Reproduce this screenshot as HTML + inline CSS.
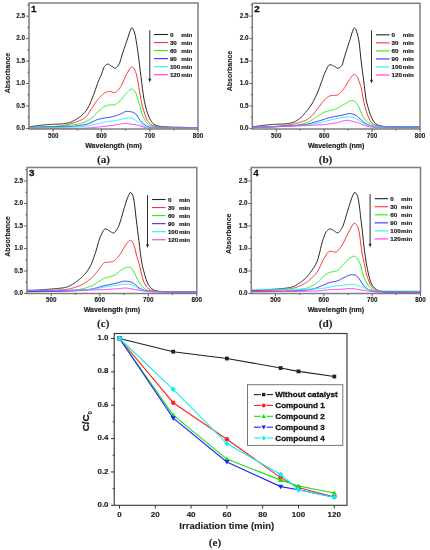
<!DOCTYPE html>
<html><head><meta charset="utf-8"><style>
html,body{margin:0;padding:0;background:#fff;-webkit-font-smoothing:antialiased;}
svg{display:block;will-change:transform;}
</style></head><body>
<svg width="430" height="550" viewBox="0 0 430 550">
<rect width="430" height="550" fill="#fff"/>
<clipPath id="ca"><rect x="29" y="2.5" width="169" height="126.5"/></clipPath>
<path d="M29.0,127.0 L29.7,126.9 L30.4,126.8 L31.1,126.7 L31.8,126.5 L32.5,126.4 L33.2,126.3 L33.9,126.2 L34.6,126.1 L35.3,126.0 L36.0,125.9 L36.7,125.8 L37.4,125.7 L38.1,125.6 L38.8,125.5 L39.5,125.4 L40.2,125.3 L40.9,125.3 L41.6,125.2 L42.3,125.1 L43.0,125.0 L43.7,125.0 L44.4,124.9 L45.1,124.8 L45.8,124.7 L46.5,124.7 L47.2,124.6 L47.9,124.6 L48.6,124.5 L49.3,124.5 L50.0,124.4 L50.7,124.4 L51.4,124.4 L52.1,124.3 L52.8,124.3 L53.5,124.3 L54.2,124.2 L54.9,124.2 L55.6,124.2 L56.3,124.2 L57.0,124.1 L57.7,124.1 L58.4,124.1 L59.1,124.0 L59.8,124.0 L60.5,124.0 L61.2,123.9 L61.9,123.9 L62.6,123.8 L63.3,123.8 L64.0,123.7 L64.7,123.6 L65.4,123.5 L66.1,123.3 L66.8,123.2 L67.5,123.0 L68.2,122.9 L68.9,122.7 L69.6,122.5 L70.3,122.3 L71.0,122.0 L71.7,121.8 L72.4,121.4 L73.1,121.1 L73.8,120.7 L74.5,120.4 L75.2,120.0 L75.9,119.5 L76.6,119.1 L77.3,118.7 L78.0,118.2 L78.7,117.8 L79.4,117.2 L80.1,116.7 L80.8,116.2 L81.5,115.6 L82.2,114.9 L82.9,114.3 L83.6,113.6 L84.3,112.9 L85.0,112.1 L85.7,111.2 L86.4,110.3 L87.1,109.2 L87.8,108.1 L88.5,106.9 L89.2,105.5 L89.9,104.0 L90.6,102.3 L91.3,100.6 L92.0,98.9 L92.7,97.2 L93.4,95.3 L94.1,93.4 L94.8,91.4 L95.5,89.4 L96.2,87.4 L96.9,85.3 L97.6,83.4 L98.3,81.5 L99.0,79.7 L99.7,78.1 L100.4,76.7 L101.1,75.2 L101.8,73.5 L102.5,71.4 L103.2,69.2 L103.9,67.4 L104.6,66.3 L105.3,65.5 L106.0,64.9 L106.7,64.4 L107.4,64.1 L108.1,64.1 L108.8,64.4 L109.5,64.8 L110.2,65.3 L110.9,65.8 L111.6,66.3 L112.3,66.7 L113.0,67.2 L113.7,67.7 L114.4,68.1 L115.1,68.2 L115.8,68.0 L116.5,67.5 L117.2,66.8 L117.9,65.9 L118.6,64.9 L119.3,63.7 L120.0,62.0 L120.7,59.6 L121.4,57.2 L122.1,55.0 L122.8,52.9 L123.5,50.7 L124.2,48.6 L124.9,46.5 L125.6,44.5 L126.3,42.4 L127.0,40.4 L127.7,38.3 L128.4,36.1 L129.1,33.9 L129.8,31.9 L130.5,30.1 L131.2,28.3 L131.9,27.7 L132.6,28.3 L133.3,29.5 L134.0,31.2 L134.7,33.1 L135.4,36.2 L136.1,40.3 L136.8,44.5 L137.5,49.1 L138.2,54.1 L138.9,59.8 L139.6,65.7 L140.3,71.2 L141.0,76.6 L141.7,82.4 L142.4,88.2 L143.1,93.4 L143.8,98.1 L144.5,101.6 L145.2,104.6 L145.9,107.6 L146.6,110.5 L147.3,112.6 L148.0,114.5 L148.7,116.2 L149.4,117.8 L150.1,119.3 L150.8,120.5 L151.5,121.6 L152.2,122.6 L152.9,123.4 L153.6,124.0 L154.3,124.5 L155.0,124.9 L155.7,125.3 L156.4,125.5 L157.1,125.7 L157.8,125.9 L158.5,126.1 L159.2,126.2 L159.9,126.3 L160.6,126.4 L161.3,126.5 L162.0,126.6 L162.7,126.6 L163.4,126.7 L164.1,126.8 L164.8,126.8 L165.5,126.9 L166.2,126.9 L166.9,127.0 L167.6,127.0 L168.3,127.0 L169.0,127.1 L169.7,127.1 L170.4,127.2 L171.1,127.2 L171.8,127.2 L172.5,127.2 L173.2,127.3 L173.9,127.3 L174.6,127.3 L175.3,127.3 L176.0,127.3 L176.7,127.3 L177.4,127.3 L178.1,127.3 L178.8,127.4 L179.5,127.4 L180.2,127.4 L180.9,127.4 L181.6,127.4 L182.3,127.4 L183.0,127.4 L183.7,127.4 L184.4,127.4 L185.1,127.4 L185.8,127.4 L186.5,127.4 L187.2,127.5 L187.9,127.5 L188.6,127.5 L189.3,127.5 L190.0,127.5 L190.7,127.5 L191.4,127.5 L192.1,127.5 L192.8,127.5 L193.5,127.5 L194.2,127.5 L194.9,127.5 L195.6,127.5 L196.3,127.5 L197.0,127.5 L197.7,127.5" fill="none" stroke="#262626" stroke-width="1" stroke-linejoin="round" clip-path="url(#ca)"/>
<path d="M29.0,127.3 L29.7,127.3 L30.4,127.3 L31.1,127.3 L31.8,127.2 L32.5,127.2 L33.2,127.2 L33.9,127.2 L34.6,127.2 L35.3,127.1 L36.0,127.1 L36.7,127.1 L37.4,127.1 L38.1,127.1 L38.8,127.0 L39.5,127.0 L40.2,127.0 L40.9,127.0 L41.6,126.9 L42.3,126.9 L43.0,126.9 L43.7,126.9 L44.4,126.8 L45.1,126.8 L45.8,126.8 L46.5,126.7 L47.2,126.7 L47.9,126.7 L48.6,126.7 L49.3,126.6 L50.0,126.6 L50.7,126.6 L51.4,126.5 L52.1,126.5 L52.8,126.5 L53.5,126.4 L54.2,126.4 L54.9,126.4 L55.6,126.3 L56.3,126.3 L57.0,126.2 L57.7,126.2 L58.4,126.1 L59.1,126.1 L59.8,126.0 L60.5,126.0 L61.2,125.9 L61.9,125.8 L62.6,125.7 L63.3,125.6 L64.0,125.4 L64.7,125.3 L65.4,125.1 L66.1,125.0 L66.8,124.8 L67.5,124.6 L68.2,124.5 L68.9,124.3 L69.6,124.1 L70.3,123.9 L71.0,123.6 L71.7,123.4 L72.4,123.2 L73.1,123.0 L73.8,122.7 L74.5,122.5 L75.2,122.3 L75.9,122.0 L76.6,121.8 L77.3,121.6 L78.0,121.3 L78.7,121.0 L79.4,120.8 L80.1,120.5 L80.8,120.2 L81.5,119.8 L82.2,119.5 L82.9,119.1 L83.6,118.6 L84.3,118.2 L85.0,117.7 L85.7,117.1 L86.4,116.3 L87.1,115.4 L87.8,114.5 L88.5,113.4 L89.2,112.3 L89.9,111.1 L90.6,110.0 L91.3,108.9 L92.0,107.9 L92.7,106.9 L93.4,105.9 L94.1,104.8 L94.8,103.7 L95.5,102.7 L96.2,101.7 L96.9,100.7 L97.6,99.7 L98.3,98.9 L99.0,98.1 L99.7,97.4 L100.4,96.6 L101.1,95.9 L101.8,95.2 L102.5,94.6 L103.2,94.0 L103.9,93.4 L104.6,93.0 L105.3,92.6 L106.0,92.3 L106.7,92.0 L107.4,91.8 L108.1,91.6 L108.8,91.4 L109.5,91.4 L110.2,91.5 L110.9,91.7 L111.6,91.9 L112.3,92.2 L113.0,92.4 L113.7,92.6 L114.4,92.6 L115.1,92.5 L115.8,92.1 L116.5,91.6 L117.2,91.0 L117.9,90.4 L118.6,89.7 L119.3,88.9 L120.0,87.8 L120.7,86.6 L121.4,85.3 L122.1,84.0 L122.8,82.6 L123.5,81.1 L124.2,79.4 L124.9,77.7 L125.6,76.1 L126.3,74.7 L127.0,73.5 L127.7,72.2 L128.4,71.0 L129.1,69.8 L129.8,68.8 L130.5,68.0 L131.2,67.4 L131.9,67.0 L132.6,67.1 L133.3,67.7 L134.0,68.7 L134.7,70.0 L135.4,71.6 L136.1,73.3 L136.8,75.9 L137.5,79.4 L138.2,83.2 L138.9,87.5 L139.6,91.9 L140.3,95.9 L141.0,99.8 L141.7,103.3 L142.4,106.2 L143.1,108.5 L143.8,110.8 L144.5,113.2 L145.2,115.5 L145.9,117.3 L146.6,119.0 L147.3,120.3 L148.0,121.4 L148.7,122.3 L149.4,123.2 L150.1,123.9 L150.8,124.4 L151.5,124.9 L152.2,125.2 L152.9,125.5 L153.6,125.7 L154.3,126.0 L155.0,126.1 L155.7,126.3 L156.4,126.4 L157.1,126.5 L157.8,126.6 L158.5,126.7 L159.2,126.8 L159.9,126.9 L160.6,126.9 L161.3,127.0 L162.0,127.1 L162.7,127.1 L163.4,127.1 L164.1,127.2 L164.8,127.2 L165.5,127.2 L166.2,127.2 L166.9,127.2 L167.6,127.2 L168.3,127.3 L169.0,127.3 L169.7,127.3 L170.4,127.3 L171.1,127.3 L171.8,127.3 L172.5,127.3 L173.2,127.3 L173.9,127.3 L174.6,127.4 L175.3,127.4 L176.0,127.4 L176.7,127.4 L177.4,127.4 L178.1,127.4 L178.8,127.4 L179.5,127.4 L180.2,127.4 L180.9,127.4 L181.6,127.4 L182.3,127.4 L183.0,127.4 L183.7,127.4 L184.4,127.5 L185.1,127.5 L185.8,127.5 L186.5,127.5 L187.2,127.5 L187.9,127.5 L188.6,127.5 L189.3,127.5 L190.0,127.5 L190.7,127.5 L191.4,127.5 L192.1,127.5 L192.8,127.5 L193.5,127.5 L194.2,127.5 L194.9,127.5 L195.6,127.5 L196.3,127.5 L197.0,127.5 L197.7,127.5" fill="none" stroke="#ff3030" stroke-width="1" stroke-linejoin="round" clip-path="url(#ca)"/>
<path d="M29.0,127.8 L29.7,127.8 L30.4,127.8 L31.1,127.8 L31.8,127.8 L32.5,127.7 L33.2,127.7 L33.9,127.7 L34.6,127.7 L35.3,127.7 L36.0,127.6 L36.7,127.6 L37.4,127.6 L38.1,127.6 L38.8,127.5 L39.5,127.5 L40.2,127.5 L40.9,127.5 L41.6,127.4 L42.3,127.4 L43.0,127.4 L43.7,127.3 L44.4,127.3 L45.1,127.3 L45.8,127.2 L46.5,127.2 L47.2,127.2 L47.9,127.1 L48.6,127.1 L49.3,127.0 L50.0,127.0 L50.7,127.0 L51.4,126.9 L52.1,126.9 L52.8,126.8 L53.5,126.8 L54.2,126.7 L54.9,126.7 L55.6,126.6 L56.3,126.6 L57.0,126.5 L57.7,126.5 L58.4,126.4 L59.1,126.4 L59.8,126.3 L60.5,126.3 L61.2,126.2 L61.9,126.1 L62.6,126.1 L63.3,126.0 L64.0,125.9 L64.7,125.8 L65.4,125.8 L66.1,125.7 L66.8,125.6 L67.5,125.5 L68.2,125.4 L68.9,125.4 L69.6,125.3 L70.3,125.2 L71.0,125.1 L71.7,125.0 L72.4,124.9 L73.1,124.8 L73.8,124.7 L74.5,124.6 L75.2,124.5 L75.9,124.4 L76.6,124.3 L77.3,124.1 L78.0,124.0 L78.7,123.8 L79.4,123.7 L80.1,123.5 L80.8,123.3 L81.5,123.1 L82.2,122.9 L82.9,122.7 L83.6,122.4 L84.3,122.2 L85.0,121.9 L85.7,121.6 L86.4,121.3 L87.1,120.9 L87.8,120.5 L88.5,120.1 L89.2,119.7 L89.9,119.2 L90.6,118.7 L91.3,118.2 L92.0,117.7 L92.7,117.1 L93.4,116.5 L94.1,115.8 L94.8,115.1 L95.5,114.3 L96.2,113.5 L96.9,112.8 L97.6,112.0 L98.3,111.3 L99.0,110.7 L99.7,110.1 L100.4,109.5 L101.1,108.9 L101.8,108.3 L102.5,107.7 L103.2,107.2 L103.9,106.8 L104.6,106.5 L105.3,106.1 L106.0,105.8 L106.7,105.6 L107.4,105.4 L108.1,105.2 L108.8,105.1 L109.5,105.0 L110.2,105.0 L110.9,105.0 L111.6,104.9 L112.3,104.9 L113.0,104.9 L113.7,104.9 L114.4,104.8 L115.1,104.6 L115.8,104.3 L116.5,103.8 L117.2,103.3 L117.9,102.7 L118.6,102.1 L119.3,101.4 L120.0,100.8 L120.7,100.1 L121.4,99.3 L122.1,98.5 L122.8,97.6 L123.5,96.7 L124.2,95.7 L124.9,94.8 L125.6,94.0 L126.3,93.2 L127.0,92.5 L127.7,91.8 L128.4,91.1 L129.1,90.4 L129.8,89.8 L130.5,89.3 L131.2,89.0 L131.9,89.0 L132.6,89.3 L133.3,89.7 L134.0,90.4 L134.7,91.2 L135.4,92.0 L136.1,93.6 L136.8,95.8 L137.5,98.2 L138.2,100.6 L138.9,102.8 L139.6,105.0 L140.3,107.5 L141.0,110.1 L141.7,112.4 L142.4,114.5 L143.1,116.4 L143.8,117.9 L144.5,119.3 L145.2,120.6 L145.9,121.6 L146.6,122.5 L147.3,123.3 L148.0,124.0 L148.7,124.6 L149.4,125.0 L150.1,125.3 L150.8,125.6 L151.5,125.9 L152.2,126.1 L152.9,126.2 L153.6,126.4 L154.3,126.5 L155.0,126.6 L155.7,126.7 L156.4,126.8 L157.1,126.8 L157.8,126.9 L158.5,127.0 L159.2,127.0 L159.9,127.1 L160.6,127.1 L161.3,127.2 L162.0,127.2 L162.7,127.2 L163.4,127.3 L164.1,127.3 L164.8,127.3 L165.5,127.3 L166.2,127.3 L166.9,127.3 L167.6,127.3 L168.3,127.3 L169.0,127.3 L169.7,127.4 L170.4,127.4 L171.1,127.4 L171.8,127.4 L172.5,127.4 L173.2,127.4 L173.9,127.4 L174.6,127.4 L175.3,127.4 L176.0,127.4 L176.7,127.4 L177.4,127.4 L178.1,127.4 L178.8,127.4 L179.5,127.4 L180.2,127.4 L180.9,127.5 L181.6,127.5 L182.3,127.5 L183.0,127.5 L183.7,127.5 L184.4,127.5 L185.1,127.5 L185.8,127.5 L186.5,127.5 L187.2,127.5 L187.9,127.5 L188.6,127.5 L189.3,127.5 L190.0,127.5 L190.7,127.5 L191.4,127.5 L192.1,127.5 L192.8,127.5 L193.5,127.5 L194.2,127.5 L194.9,127.5 L195.6,127.5 L196.3,127.5 L197.0,127.5 L197.7,127.5" fill="none" stroke="#22ee22" stroke-width="1" stroke-linejoin="round" clip-path="url(#ca)"/>
<path d="M29.0,127.3 L29.7,127.3 L30.4,127.3 L31.1,127.3 L31.8,127.3 L32.5,127.3 L33.2,127.3 L33.9,127.3 L34.6,127.3 L35.3,127.3 L36.0,127.3 L36.7,127.3 L37.4,127.3 L38.1,127.3 L38.8,127.3 L39.5,127.3 L40.2,127.3 L40.9,127.3 L41.6,127.2 L42.3,127.2 L43.0,127.2 L43.7,127.2 L44.4,127.2 L45.1,127.2 L45.8,127.2 L46.5,127.2 L47.2,127.2 L47.9,127.2 L48.6,127.2 L49.3,127.2 L50.0,127.2 L50.7,127.1 L51.4,127.1 L52.1,127.1 L52.8,127.1 L53.5,127.1 L54.2,127.1 L54.9,127.1 L55.6,127.1 L56.3,127.1 L57.0,127.1 L57.7,127.0 L58.4,127.0 L59.1,127.0 L59.8,127.0 L60.5,127.0 L61.2,127.0 L61.9,127.0 L62.6,126.9 L63.3,126.9 L64.0,126.9 L64.7,126.8 L65.4,126.8 L66.1,126.8 L66.8,126.7 L67.5,126.7 L68.2,126.6 L68.9,126.6 L69.6,126.5 L70.3,126.5 L71.0,126.4 L71.7,126.4 L72.4,126.3 L73.1,126.2 L73.8,126.2 L74.5,126.1 L75.2,126.0 L75.9,125.9 L76.6,125.9 L77.3,125.8 L78.0,125.7 L78.7,125.6 L79.4,125.5 L80.1,125.4 L80.8,125.3 L81.5,125.2 L82.2,125.1 L82.9,125.0 L83.6,124.9 L84.3,124.8 L85.0,124.7 L85.7,124.6 L86.4,124.4 L87.1,124.2 L87.8,123.9 L88.5,123.7 L89.2,123.4 L89.9,123.1 L90.6,122.7 L91.3,122.4 L92.0,122.1 L92.7,121.7 L93.4,121.4 L94.1,121.0 L94.8,120.7 L95.5,120.4 L96.2,120.1 L96.9,119.8 L97.6,119.5 L98.3,119.3 L99.0,119.1 L99.7,118.9 L100.4,118.8 L101.1,118.6 L101.8,118.5 L102.5,118.4 L103.2,118.3 L103.9,118.2 L104.6,118.0 L105.3,117.9 L106.0,117.8 L106.7,117.7 L107.4,117.6 L108.1,117.5 L108.8,117.4 L109.5,117.3 L110.2,117.2 L110.9,117.0 L111.6,116.9 L112.3,116.7 L113.0,116.6 L113.7,116.4 L114.4,116.2 L115.1,116.0 L115.8,115.7 L116.5,115.5 L117.2,115.2 L117.9,115.0 L118.6,114.7 L119.3,114.4 L120.0,114.2 L120.7,113.9 L121.4,113.5 L122.1,113.2 L122.8,112.8 L123.5,112.4 L124.2,112.1 L124.9,111.8 L125.6,111.6 L126.3,111.4 L127.0,111.4 L127.7,111.4 L128.4,111.5 L129.1,111.5 L129.8,111.6 L130.5,111.7 L131.2,111.8 L131.9,112.0 L132.6,112.2 L133.3,112.6 L134.0,112.9 L134.7,113.4 L135.4,113.9 L136.1,114.5 L136.8,115.1 L137.5,116.3 L138.2,117.5 L138.9,118.6 L139.6,119.6 L140.3,120.6 L141.0,121.4 L141.7,122.2 L142.4,123.0 L143.1,123.6 L143.8,124.2 L144.5,124.7 L145.2,125.2 L145.9,125.6 L146.6,126.0 L147.3,126.3 L148.0,126.5 L148.7,126.7 L149.4,126.9 L150.1,127.1 L150.8,127.2 L151.5,127.3 L152.2,127.4 L152.9,127.4 L153.6,127.4 L154.3,127.4 L155.0,127.4 L155.7,127.4 L156.4,127.4 L157.1,127.4 L157.8,127.4 L158.5,127.4 L159.2,127.4 L159.9,127.4 L160.6,127.4 L161.3,127.4 L162.0,127.4 L162.7,127.4 L163.4,127.5 L164.1,127.5 L164.8,127.5 L165.5,127.5 L166.2,127.5 L166.9,127.5 L167.6,127.5 L168.3,127.5 L169.0,127.5 L169.7,127.5 L170.4,127.5 L171.1,127.5 L171.8,127.5 L172.5,127.5 L173.2,127.5 L173.9,127.5 L174.6,127.5 L175.3,127.5 L176.0,127.5 L176.7,127.5 L177.4,127.5 L178.1,127.5 L178.8,127.5 L179.5,127.5 L180.2,127.5 L180.9,127.5 L181.6,127.5 L182.3,127.5 L183.0,127.5 L183.7,127.5 L184.4,127.5 L185.1,127.5 L185.8,127.5 L186.5,127.5 L187.2,127.5 L187.9,127.5 L188.6,127.5 L189.3,127.5 L190.0,127.5 L190.7,127.5 L191.4,127.5 L192.1,127.5 L192.8,127.5 L193.5,127.5 L194.2,127.5 L194.9,127.5 L195.6,127.5 L196.3,127.5 L197.0,127.5 L197.7,127.5" fill="none" stroke="#3030ff" stroke-width="1" stroke-linejoin="round" clip-path="url(#ca)"/>
<path d="M29.0,127.6 L29.7,127.6 L30.4,127.6 L31.1,127.6 L31.8,127.6 L32.5,127.6 L33.2,127.6 L33.9,127.6 L34.6,127.6 L35.3,127.6 L36.0,127.6 L36.7,127.6 L37.4,127.6 L38.1,127.6 L38.8,127.6 L39.5,127.6 L40.2,127.6 L40.9,127.6 L41.6,127.6 L42.3,127.6 L43.0,127.6 L43.7,127.6 L44.4,127.6 L45.1,127.6 L45.8,127.6 L46.5,127.6 L47.2,127.6 L47.9,127.6 L48.6,127.6 L49.3,127.6 L50.0,127.6 L50.7,127.6 L51.4,127.5 L52.1,127.5 L52.8,127.5 L53.5,127.5 L54.2,127.5 L54.9,127.5 L55.6,127.5 L56.3,127.5 L57.0,127.5 L57.7,127.5 L58.4,127.5 L59.1,127.5 L59.8,127.5 L60.5,127.5 L61.2,127.5 L61.9,127.5 L62.6,127.5 L63.3,127.5 L64.0,127.4 L64.7,127.4 L65.4,127.4 L66.1,127.4 L66.8,127.4 L67.5,127.3 L68.2,127.3 L68.9,127.3 L69.6,127.3 L70.3,127.2 L71.0,127.2 L71.7,127.2 L72.4,127.1 L73.1,127.1 L73.8,127.1 L74.5,127.0 L75.2,127.0 L75.9,126.9 L76.6,126.9 L77.3,126.9 L78.0,126.8 L78.7,126.8 L79.4,126.7 L80.1,126.7 L80.8,126.6 L81.5,126.6 L82.2,126.5 L82.9,126.5 L83.6,126.4 L84.3,126.4 L85.0,126.3 L85.7,126.2 L86.4,126.2 L87.1,126.1 L87.8,126.0 L88.5,125.9 L89.2,125.7 L89.9,125.6 L90.6,125.5 L91.3,125.3 L92.0,125.2 L92.7,125.0 L93.4,124.8 L94.1,124.7 L94.8,124.5 L95.5,124.3 L96.2,124.2 L96.9,124.0 L97.6,123.8 L98.3,123.6 L99.0,123.4 L99.7,123.3 L100.4,123.1 L101.1,122.9 L101.8,122.7 L102.5,122.6 L103.2,122.4 L103.9,122.3 L104.6,122.1 L105.3,122.0 L106.0,121.9 L106.7,121.8 L107.4,121.7 L108.1,121.5 L108.8,121.4 L109.5,121.3 L110.2,121.2 L110.9,121.2 L111.6,121.1 L112.3,121.0 L113.0,120.9 L113.7,120.8 L114.4,120.7 L115.1,120.6 L115.8,120.5 L116.5,120.4 L117.2,120.3 L117.9,120.2 L118.6,120.0 L119.3,119.9 L120.0,119.8 L120.7,119.6 L121.4,119.4 L122.1,119.2 L122.8,118.9 L123.5,118.7 L124.2,118.5 L124.9,118.3 L125.6,118.1 L126.3,118.0 L127.0,118.0 L127.7,118.0 L128.4,118.0 L129.1,118.1 L129.8,118.1 L130.5,118.2 L131.2,118.3 L131.9,118.3 L132.6,118.4 L133.3,118.7 L134.0,119.0 L134.7,119.5 L135.4,120.1 L136.1,120.7 L136.8,121.3 L137.5,121.8 L138.2,122.3 L138.9,122.9 L139.6,123.4 L140.3,124.0 L141.0,124.5 L141.7,124.9 L142.4,125.3 L143.1,125.8 L143.8,126.1 L144.5,126.5 L145.2,126.7 L145.9,126.9 L146.6,127.0 L147.3,127.1 L148.0,127.2 L148.7,127.3 L149.4,127.4 L150.1,127.4 L150.8,127.5 L151.5,127.5 L152.2,127.5 L152.9,127.5 L153.6,127.5 L154.3,127.5 L155.0,127.5 L155.7,127.6 L156.4,127.6 L157.1,127.6 L157.8,127.6 L158.5,127.6 L159.2,127.6 L159.9,127.6 L160.6,127.6 L161.3,127.6 L162.0,127.6 L162.7,127.6 L163.4,127.6 L164.1,127.7 L164.8,127.7 L165.5,127.7 L166.2,127.7 L166.9,127.7 L167.6,127.7 L168.3,127.7 L169.0,127.7 L169.7,127.7 L170.4,127.7 L171.1,127.7 L171.8,127.7 L172.5,127.7 L173.2,127.7 L173.9,127.7 L174.6,127.7 L175.3,127.7 L176.0,127.7 L176.7,127.8 L177.4,127.8 L178.1,127.8 L178.8,127.8 L179.5,127.8 L180.2,127.8 L180.9,127.8 L181.6,127.8 L182.3,127.8 L183.0,127.8 L183.7,127.8 L184.4,127.8 L185.1,127.8 L185.8,127.8 L186.5,127.8 L187.2,127.8 L187.9,127.8 L188.6,127.8 L189.3,127.8 L190.0,127.8 L190.7,127.8 L191.4,127.8 L192.1,127.8 L192.8,127.8 L193.5,127.8 L194.2,127.8 L194.9,127.8 L195.6,127.8 L196.3,127.8 L197.0,127.8 L197.7,127.8" fill="none" stroke="#20f0f0" stroke-width="1" stroke-linejoin="round" clip-path="url(#ca)"/>
<path d="M29.0,128.7 L29.7,128.7 L30.4,128.7 L31.1,128.7 L31.8,128.7 L32.5,128.7 L33.2,128.7 L33.9,128.7 L34.6,128.7 L35.3,128.7 L36.0,128.7 L36.7,128.7 L37.4,128.7 L38.1,128.7 L38.8,128.7 L39.5,128.7 L40.2,128.7 L40.9,128.7 L41.6,128.7 L42.3,128.7 L43.0,128.7 L43.7,128.7 L44.4,128.7 L45.1,128.7 L45.8,128.7 L46.5,128.7 L47.2,128.7 L47.9,128.7 L48.6,128.7 L49.3,128.7 L50.0,128.7 L50.7,128.6 L51.4,128.6 L52.1,128.6 L52.8,128.6 L53.5,128.6 L54.2,128.6 L54.9,128.6 L55.6,128.6 L56.3,128.6 L57.0,128.6 L57.7,128.6 L58.4,128.6 L59.1,128.6 L59.8,128.6 L60.5,128.6 L61.2,128.6 L61.9,128.6 L62.6,128.6 L63.3,128.6 L64.0,128.6 L64.7,128.6 L65.4,128.6 L66.1,128.5 L66.8,128.5 L67.5,128.5 L68.2,128.5 L68.9,128.5 L69.6,128.5 L70.3,128.5 L71.0,128.5 L71.7,128.5 L72.4,128.4 L73.1,128.4 L73.8,128.4 L74.5,128.4 L75.2,128.4 L75.9,128.4 L76.6,128.3 L77.3,128.3 L78.0,128.3 L78.7,128.3 L79.4,128.3 L80.1,128.3 L80.8,128.2 L81.5,128.2 L82.2,128.2 L82.9,128.2 L83.6,128.1 L84.3,128.1 L85.0,128.1 L85.7,128.1 L86.4,128.0 L87.1,128.0 L87.8,128.0 L88.5,127.9 L89.2,127.9 L89.9,127.8 L90.6,127.8 L91.3,127.7 L92.0,127.7 L92.7,127.6 L93.4,127.6 L94.1,127.5 L94.8,127.4 L95.5,127.4 L96.2,127.3 L96.9,127.2 L97.6,127.2 L98.3,127.1 L99.0,127.0 L99.7,126.9 L100.4,126.8 L101.1,126.8 L101.8,126.7 L102.5,126.6 L103.2,126.5 L103.9,126.4 L104.6,126.3 L105.3,126.2 L106.0,126.2 L106.7,126.1 L107.4,126.0 L108.1,125.9 L108.8,125.8 L109.5,125.7 L110.2,125.6 L110.9,125.5 L111.6,125.5 L112.3,125.4 L113.0,125.3 L113.7,125.2 L114.4,125.1 L115.1,125.0 L115.8,124.9 L116.5,124.7 L117.2,124.6 L117.9,124.5 L118.6,124.3 L119.3,124.2 L120.0,124.1 L120.7,123.9 L121.4,123.8 L122.1,123.7 L122.8,123.7 L123.5,123.6 L124.2,123.5 L124.9,123.5 L125.6,123.5 L126.3,123.5 L127.0,123.6 L127.7,123.6 L128.4,123.7 L129.1,123.8 L129.8,124.0 L130.5,124.1 L131.2,124.2 L131.9,124.3 L132.6,124.4 L133.3,124.5 L134.0,124.6 L134.7,124.7 L135.4,124.8 L136.1,124.9 L136.8,125.1 L137.5,125.2 L138.2,125.3 L138.9,125.5 L139.6,125.7 L140.3,126.0 L141.0,126.2 L141.7,126.5 L142.4,126.7 L143.1,126.9 L143.8,127.2 L144.5,127.5 L145.2,127.7 L145.9,127.9 L146.6,128.0 L147.3,128.0 L148.0,128.0 L148.7,128.0 L149.4,128.0 L150.1,128.0 L150.8,128.0 L151.5,128.0 L152.2,128.0 L152.9,128.0 L153.6,128.0 L154.3,128.0 L155.0,128.0 L155.7,128.0 L156.4,128.0 L157.1,128.0 L157.8,128.0 L158.5,128.0 L159.2,128.0 L159.9,128.0 L160.6,128.0 L161.3,128.0 L162.0,128.0 L162.7,128.0 L163.4,128.0 L164.1,128.0 L164.8,128.0 L165.5,128.0 L166.2,128.0 L166.9,128.0 L167.6,128.0 L168.3,128.0 L169.0,128.0 L169.7,128.0 L170.4,128.0 L171.1,128.0 L171.8,128.0 L172.5,128.0 L173.2,128.0 L173.9,128.0 L174.6,128.0 L175.3,128.0 L176.0,128.0 L176.7,128.0 L177.4,128.0 L178.1,128.0 L178.8,128.0 L179.5,128.0 L180.2,128.0 L180.9,128.0 L181.6,128.0 L182.3,128.0 L183.0,128.0 L183.7,128.0 L184.4,128.0 L185.1,128.0 L185.8,128.0 L186.5,128.0 L187.2,128.0 L187.9,128.0 L188.6,128.0 L189.3,128.0 L190.0,128.0 L190.7,128.0 L191.4,128.0 L192.1,128.0 L192.8,128.0 L193.5,128.0 L194.2,128.0 L194.9,128.0 L195.6,128.0 L196.3,128.0 L197.0,128.0 L197.7,128.0" fill="none" stroke="#ff30ff" stroke-width="1" stroke-linejoin="round" clip-path="url(#ca)"/>
<rect x="29" y="3" width="169" height="126" fill="none" stroke="#7e7e7e" stroke-width="1.5"/>
<line x1="26" y1="128.40" x2="29" y2="128.40" stroke="#555" stroke-width="0.9"/>
<text x="25.10" y="130.10" text-anchor="end" style="font-family:'Liberation Sans',sans-serif;font-weight:bold;font-size:6.3px;stroke:#222;stroke-width:0.12px" fill="#222">0.0</text>
<line x1="27.4" y1="117.18" x2="29" y2="117.18" stroke="#555" stroke-width="0.9"/>
<line x1="26" y1="105.95" x2="29" y2="105.95" stroke="#555" stroke-width="0.9"/>
<text x="25.10" y="107.65" text-anchor="end" style="font-family:'Liberation Sans',sans-serif;font-weight:bold;font-size:6.3px;stroke:#222;stroke-width:0.12px" fill="#222">0.5</text>
<line x1="27.4" y1="94.73" x2="29" y2="94.73" stroke="#555" stroke-width="0.9"/>
<line x1="26" y1="83.50" x2="29" y2="83.50" stroke="#555" stroke-width="0.9"/>
<text x="25.10" y="85.20" text-anchor="end" style="font-family:'Liberation Sans',sans-serif;font-weight:bold;font-size:6.3px;stroke:#222;stroke-width:0.12px" fill="#222">1.0</text>
<line x1="27.4" y1="72.28" x2="29" y2="72.28" stroke="#555" stroke-width="0.9"/>
<line x1="26" y1="61.05" x2="29" y2="61.05" stroke="#555" stroke-width="0.9"/>
<text x="25.10" y="62.75" text-anchor="end" style="font-family:'Liberation Sans',sans-serif;font-weight:bold;font-size:6.3px;stroke:#222;stroke-width:0.12px" fill="#222">1.5</text>
<line x1="27.4" y1="49.83" x2="29" y2="49.83" stroke="#555" stroke-width="0.9"/>
<line x1="26" y1="38.60" x2="29" y2="38.60" stroke="#555" stroke-width="0.9"/>
<text x="25.10" y="40.30" text-anchor="end" style="font-family:'Liberation Sans',sans-serif;font-weight:bold;font-size:6.3px;stroke:#222;stroke-width:0.12px" fill="#222">2.0</text>
<line x1="27.4" y1="27.38" x2="29" y2="27.38" stroke="#555" stroke-width="0.9"/>
<line x1="26" y1="16.15" x2="29" y2="16.15" stroke="#555" stroke-width="0.9"/>
<text x="25.10" y="17.85" text-anchor="end" style="font-family:'Liberation Sans',sans-serif;font-weight:bold;font-size:6.3px;stroke:#222;stroke-width:0.12px" fill="#222">2.5</text>
<line x1="27.4" y1="4.93" x2="29" y2="4.93" stroke="#555" stroke-width="0.9"/>
<line x1="53.14" y1="129" x2="53.14" y2="131.8" stroke="#555" stroke-width="0.9"/>
<text x="53.14" y="137.50" text-anchor="middle" style="font-family:'Liberation Sans',sans-serif;font-weight:bold;font-size:6.3px;stroke:#222;stroke-width:0.12px" fill="#222">500</text>
<line x1="77.29" y1="129" x2="77.29" y2="130.5" stroke="#555" stroke-width="0.9"/>
<line x1="101.43" y1="129" x2="101.43" y2="131.8" stroke="#555" stroke-width="0.9"/>
<text x="101.43" y="137.50" text-anchor="middle" style="font-family:'Liberation Sans',sans-serif;font-weight:bold;font-size:6.3px;stroke:#222;stroke-width:0.12px" fill="#222">600</text>
<line x1="125.57" y1="129" x2="125.57" y2="130.5" stroke="#555" stroke-width="0.9"/>
<line x1="149.71" y1="129" x2="149.71" y2="131.8" stroke="#555" stroke-width="0.9"/>
<text x="149.71" y="137.50" text-anchor="middle" style="font-family:'Liberation Sans',sans-serif;font-weight:bold;font-size:6.3px;stroke:#222;stroke-width:0.12px" fill="#222">700</text>
<line x1="173.86" y1="129" x2="173.86" y2="130.5" stroke="#555" stroke-width="0.9"/>
<line x1="198.00" y1="129" x2="198.00" y2="131.8" stroke="#555" stroke-width="0.9"/>
<text x="198.00" y="137.50" text-anchor="middle" style="font-family:'Liberation Sans',sans-serif;font-weight:bold;font-size:6.3px;stroke:#222;stroke-width:0.12px" fill="#222">800</text>
<text x="113.50" y="148.00" text-anchor="middle" style="font-family:'Liberation Sans',sans-serif;font-weight:bold;font-size:7.05px;stroke:#222;stroke-width:0.18px" fill="#222">Wavelength (nm)</text>
<text transform="translate(9.9,73.00) rotate(-90)" text-anchor="middle" style="font-family:'Liberation Sans',sans-serif;font-weight:bold;font-size:7px;stroke:#222;stroke-width:0.12px" fill="#222">Absorbance</text>
<text x="30.90" y="11.50" style="font-family:'Liberation Sans',sans-serif;font-weight:bold;font-size:9.8px;stroke:#111;stroke-width:0.3px" fill="#111">1</text>
<line x1="154" y1="34.50" x2="168" y2="34.50" stroke="#262626" stroke-width="1.1"/>
<text x="169.90" y="36.90" style="font-family:'Liberation Sans',sans-serif;font-weight:bold;font-size:6.25px;stroke:#222;stroke-width:0.2px" fill="#222">0</text>
<text x="181.20" y="36.90" style="font-family:'Liberation Sans',sans-serif;font-weight:bold;font-size:6.25px;stroke:#222;stroke-width:0.2px" fill="#222">min</text>
<line x1="154" y1="42.55" x2="168" y2="42.55" stroke="#ff3030" stroke-width="1.1"/>
<text x="169.90" y="44.95" style="font-family:'Liberation Sans',sans-serif;font-weight:bold;font-size:6.25px;stroke:#222;stroke-width:0.2px" fill="#222">30</text>
<text x="181.20" y="44.95" style="font-family:'Liberation Sans',sans-serif;font-weight:bold;font-size:6.25px;stroke:#222;stroke-width:0.2px" fill="#222">min</text>
<line x1="154" y1="50.60" x2="168" y2="50.60" stroke="#22ee22" stroke-width="1.1"/>
<text x="169.90" y="53.00" style="font-family:'Liberation Sans',sans-serif;font-weight:bold;font-size:6.25px;stroke:#222;stroke-width:0.2px" fill="#222">60</text>
<text x="181.20" y="53.00" style="font-family:'Liberation Sans',sans-serif;font-weight:bold;font-size:6.25px;stroke:#222;stroke-width:0.2px" fill="#222">min</text>
<line x1="154" y1="58.65" x2="168" y2="58.65" stroke="#3030ff" stroke-width="1.1"/>
<text x="169.90" y="61.05" style="font-family:'Liberation Sans',sans-serif;font-weight:bold;font-size:6.25px;stroke:#222;stroke-width:0.2px" fill="#222">90</text>
<text x="181.20" y="61.05" style="font-family:'Liberation Sans',sans-serif;font-weight:bold;font-size:6.25px;stroke:#222;stroke-width:0.2px" fill="#222">min</text>
<line x1="154" y1="66.70" x2="168" y2="66.70" stroke="#20f0f0" stroke-width="1.1"/>
<text x="169.90" y="69.10" style="font-family:'Liberation Sans',sans-serif;font-weight:bold;font-size:6.25px;stroke:#222;stroke-width:0.2px" fill="#222">100</text>
<text x="181.20" y="69.10" style="font-family:'Liberation Sans',sans-serif;font-weight:bold;font-size:6.25px;stroke:#222;stroke-width:0.2px" fill="#222">min</text>
<line x1="154" y1="74.75" x2="168" y2="74.75" stroke="#ff30ff" stroke-width="1.1"/>
<text x="169.90" y="77.15" style="font-family:'Liberation Sans',sans-serif;font-weight:bold;font-size:6.25px;stroke:#222;stroke-width:0.2px" fill="#222">120</text>
<text x="181.20" y="77.15" style="font-family:'Liberation Sans',sans-serif;font-weight:bold;font-size:6.25px;stroke:#222;stroke-width:0.2px" fill="#222">min</text>
<line x1="149.8" y1="30.2" x2="149.8" y2="80.0" stroke="#2a2a2a" stroke-width="1"/>
<path d="M148.3,78.8 L151.3,78.8 L149.8,82.6 Z" fill="#222"/>
<text x="103.50" y="162.80" text-anchor="middle" style="font-family:'Liberation Serif',serif;font-weight:bold;font-size:11.2px;stroke:#222;stroke-width:0.1px" fill="#222">(a)</text>
<clipPath id="cb"><rect x="252.3" y="2.8" width="167.7" height="126.2"/></clipPath>
<path d="M252.3,127.0 L253.0,126.9 L253.7,126.8 L254.4,126.6 L255.1,126.5 L255.8,126.4 L256.5,126.3 L257.2,126.2 L257.9,126.1 L258.6,126.0 L259.3,125.9 L260.0,125.8 L260.7,125.7 L261.4,125.6 L262.1,125.5 L262.8,125.4 L263.5,125.3 L264.2,125.2 L264.9,125.2 L265.6,125.1 L266.3,125.0 L267.0,124.9 L267.7,124.9 L268.4,124.8 L269.1,124.7 L269.8,124.7 L270.5,124.6 L271.2,124.6 L271.9,124.5 L272.6,124.5 L273.3,124.4 L274.0,124.4 L274.7,124.3 L275.4,124.3 L276.1,124.3 L276.8,124.3 L277.5,124.2 L278.2,124.2 L278.9,124.2 L279.6,124.2 L280.3,124.1 L281.0,124.1 L281.7,124.1 L282.4,124.0 L283.1,124.0 L283.8,124.0 L284.5,123.9 L285.2,123.9 L285.9,123.8 L286.6,123.7 L287.3,123.6 L288.0,123.5 L288.7,123.4 L289.4,123.3 L290.1,123.1 L290.8,123.0 L291.5,122.8 L292.2,122.6 L292.9,122.4 L293.6,122.2 L294.3,121.9 L295.0,121.6 L295.7,121.2 L296.4,120.8 L297.1,120.4 L297.8,119.9 L298.5,119.5 L299.2,119.0 L299.9,118.4 L300.6,117.9 L301.3,117.2 L302.0,116.5 L302.7,115.7 L303.4,114.9 L304.1,114.1 L304.8,113.2 L305.5,112.4 L306.2,111.6 L306.9,110.8 L307.6,109.9 L308.3,109.1 L309.0,108.1 L309.7,107.2 L310.4,106.2 L311.1,105.2 L311.8,104.1 L312.5,102.9 L313.2,101.6 L313.9,100.3 L314.6,98.9 L315.3,97.5 L316.0,96.0 L316.7,94.4 L317.4,92.8 L318.1,91.2 L318.8,89.4 L319.5,87.5 L320.2,85.5 L320.9,83.5 L321.6,81.6 L322.3,79.7 L323.0,77.7 L323.7,75.7 L324.4,73.9 L325.1,72.2 L325.8,70.8 L326.5,69.3 L327.2,67.9 L327.9,66.6 L328.6,65.5 L329.3,64.8 L330.0,64.6 L330.7,64.7 L331.4,64.9 L332.1,65.2 L332.8,65.5 L333.5,65.9 L334.2,66.2 L334.9,66.6 L335.6,67.1 L336.3,67.6 L337.0,68.1 L337.7,68.2 L338.4,68.1 L339.1,67.8 L339.8,67.4 L340.5,66.8 L341.2,66.1 L341.9,65.3 L342.6,63.8 L343.3,61.1 L344.0,58.7 L344.7,56.4 L345.4,54.1 L346.1,51.8 L346.8,49.5 L347.5,47.3 L348.2,45.1 L348.9,42.9 L349.6,40.9 L350.3,38.8 L351.0,36.5 L351.7,34.0 L352.4,31.7 L353.1,29.8 L353.8,28.5 L354.5,28.0 L355.2,28.4 L355.9,29.6 L356.6,31.4 L357.3,33.8 L358.0,36.5 L358.7,39.5 L359.4,44.1 L360.1,51.1 L360.8,58.2 L361.5,64.0 L362.2,69.4 L362.9,74.6 L363.6,79.9 L364.3,85.7 L365.0,91.7 L365.7,97.0 L366.4,101.0 L367.1,103.9 L367.8,106.4 L368.5,108.8 L369.2,111.2 L369.9,113.5 L370.6,115.4 L371.3,117.1 L372.0,118.6 L372.7,119.9 L373.4,121.0 L374.1,122.0 L374.8,122.9 L375.5,123.5 L376.2,124.0 L376.9,124.4 L377.6,124.8 L378.3,125.1 L379.0,125.4 L379.7,125.6 L380.4,125.8 L381.1,125.9 L381.8,126.1 L382.5,126.2 L383.2,126.3 L383.9,126.3 L384.6,126.4 L385.3,126.5 L386.0,126.5 L386.7,126.5 L387.4,126.6 L388.1,126.6 L388.8,126.7 L389.5,126.7 L390.2,126.7 L390.9,126.8 L391.6,126.8 L392.3,126.8 L393.0,126.9 L393.7,126.9 L394.4,126.9 L395.1,126.9 L395.8,127.0 L396.5,127.0 L397.2,127.0 L397.9,127.0 L398.6,127.0 L399.3,127.0 L400.0,127.0 L400.7,127.0 L401.4,127.0 L402.1,127.0 L402.8,127.0 L403.5,127.0 L404.2,127.0 L404.9,127.0 L405.6,127.0 L406.3,127.0 L407.0,127.0 L407.7,127.0 L408.4,127.0 L409.1,127.0 L409.8,127.0 L410.5,127.0 L411.2,127.0 L411.9,127.0 L412.6,127.0 L413.3,127.0 L414.0,127.0 L414.7,127.0 L415.4,127.0 L416.1,127.0 L416.8,127.0 L417.5,127.0 L418.2,127.0 L418.9,127.0 L419.6,127.0" fill="none" stroke="#262626" stroke-width="1" stroke-linejoin="round" clip-path="url(#cb)"/>
<path d="M252.3,127.3 L253.0,127.3 L253.7,127.3 L254.4,127.3 L255.1,127.3 L255.8,127.3 L256.5,127.3 L257.2,127.2 L257.9,127.2 L258.6,127.2 L259.3,127.2 L260.0,127.2 L260.7,127.2 L261.4,127.1 L262.1,127.1 L262.8,127.1 L263.5,127.0 L264.2,127.0 L264.9,127.0 L265.6,126.9 L266.3,126.9 L267.0,126.9 L267.7,126.8 L268.4,126.8 L269.1,126.8 L269.8,126.7 L270.5,126.7 L271.2,126.6 L271.9,126.6 L272.6,126.5 L273.3,126.5 L274.0,126.4 L274.7,126.4 L275.4,126.3 L276.1,126.3 L276.8,126.2 L277.5,126.2 L278.2,126.1 L278.9,126.1 L279.6,126.0 L280.3,126.0 L281.0,125.9 L281.7,125.9 L282.4,125.8 L283.1,125.7 L283.8,125.6 L284.5,125.5 L285.2,125.5 L285.9,125.4 L286.6,125.3 L287.3,125.2 L288.0,125.0 L288.7,124.9 L289.4,124.8 L290.1,124.7 L290.8,124.5 L291.5,124.4 L292.2,124.3 L292.9,124.1 L293.6,124.0 L294.3,123.8 L295.0,123.6 L295.7,123.5 L296.4,123.3 L297.1,123.1 L297.8,122.9 L298.5,122.7 L299.2,122.5 L299.9,122.3 L300.6,122.1 L301.3,121.9 L302.0,121.6 L302.7,121.4 L303.4,121.2 L304.1,120.9 L304.8,120.7 L305.5,120.4 L306.2,120.1 L306.9,119.7 L307.6,119.2 L308.3,118.7 L309.0,118.2 L309.7,117.6 L310.4,117.1 L311.1,116.5 L311.8,115.8 L312.5,115.1 L313.2,114.4 L313.9,113.5 L314.6,112.6 L315.3,111.7 L316.0,110.8 L316.7,109.9 L317.4,109.0 L318.1,108.1 L318.8,107.2 L319.5,106.2 L320.2,105.2 L320.9,104.2 L321.6,103.2 L322.3,102.3 L323.0,101.5 L323.7,100.7 L324.4,100.0 L325.1,99.4 L325.8,98.7 L326.5,98.1 L327.2,97.5 L327.9,97.0 L328.6,96.5 L329.3,96.1 L330.0,95.8 L330.7,95.7 L331.4,95.6 L332.1,95.5 L332.8,95.5 L333.5,95.4 L334.2,95.4 L334.9,95.3 L335.6,95.3 L336.3,95.2 L337.0,95.1 L337.7,94.9 L338.4,94.5 L339.1,94.0 L339.8,93.4 L340.5,92.7 L341.2,91.9 L341.9,91.1 L342.6,90.2 L343.3,89.4 L344.0,88.5 L344.7,87.5 L345.4,86.4 L346.1,85.2 L346.8,83.9 L347.5,82.7 L348.2,81.5 L348.9,80.4 L349.6,79.4 L350.3,78.4 L351.0,77.4 L351.7,76.5 L352.4,75.6 L353.1,74.9 L353.8,74.5 L354.5,74.4 L355.2,74.8 L355.9,75.4 L356.6,76.2 L357.3,77.1 L358.0,78.3 L358.7,80.2 L359.4,82.4 L360.1,84.5 L360.8,86.5 L361.5,88.9 L362.2,92.5 L362.9,97.1 L363.6,100.9 L364.3,104.0 L365.0,106.7 L365.7,109.1 L366.4,111.4 L367.1,113.5 L367.8,115.4 L368.5,117.3 L369.2,119.0 L369.9,120.3 L370.6,121.3 L371.3,122.2 L372.0,123.0 L372.7,123.6 L373.4,124.1 L374.1,124.5 L374.8,124.9 L375.5,125.2 L376.2,125.5 L376.9,125.8 L377.6,125.9 L378.3,126.0 L379.0,126.1 L379.7,126.2 L380.4,126.3 L381.1,126.4 L381.8,126.5 L382.5,126.6 L383.2,126.7 L383.9,126.7 L384.6,126.8 L385.3,126.8 L386.0,126.9 L386.7,126.9 L387.4,126.9 L388.1,127.0 L388.8,127.0 L389.5,127.0 L390.2,127.0 L390.9,127.0 L391.6,127.0 L392.3,127.0 L393.0,127.0 L393.7,127.0 L394.4,127.0 L395.1,127.0 L395.8,127.0 L396.5,127.0 L397.2,127.0 L397.9,127.0 L398.6,127.0 L399.3,127.0 L400.0,127.0 L400.7,127.0 L401.4,127.0 L402.1,127.0 L402.8,127.0 L403.5,127.0 L404.2,127.0 L404.9,127.0 L405.6,127.0 L406.3,127.0 L407.0,127.0 L407.7,127.0 L408.4,127.0 L409.1,127.0 L409.8,127.0 L410.5,127.0 L411.2,127.0 L411.9,127.0 L412.6,127.0 L413.3,127.0 L414.0,127.0 L414.7,127.0 L415.4,127.0 L416.1,127.0 L416.8,127.0 L417.5,127.0 L418.2,127.0 L418.9,127.0 L419.6,127.0" fill="none" stroke="#ff3030" stroke-width="1" stroke-linejoin="round" clip-path="url(#cb)"/>
<path d="M252.3,127.6 L253.0,127.6 L253.7,127.6 L254.4,127.6 L255.1,127.6 L255.8,127.6 L256.5,127.6 L257.2,127.6 L257.9,127.6 L258.6,127.5 L259.3,127.5 L260.0,127.5 L260.7,127.5 L261.4,127.5 L262.1,127.5 L262.8,127.5 L263.5,127.4 L264.2,127.4 L264.9,127.4 L265.6,127.4 L266.3,127.4 L267.0,127.3 L267.7,127.3 L268.4,127.3 L269.1,127.2 L269.8,127.2 L270.5,127.2 L271.2,127.2 L271.9,127.1 L272.6,127.1 L273.3,127.1 L274.0,127.0 L274.7,127.0 L275.4,127.0 L276.1,126.9 L276.8,126.9 L277.5,126.8 L278.2,126.8 L278.9,126.8 L279.6,126.7 L280.3,126.7 L281.0,126.6 L281.7,126.6 L282.4,126.5 L283.1,126.5 L283.8,126.4 L284.5,126.4 L285.2,126.3 L285.9,126.3 L286.6,126.3 L287.3,126.2 L288.0,126.1 L288.7,126.1 L289.4,126.0 L290.1,126.0 L290.8,125.9 L291.5,125.9 L292.2,125.8 L292.9,125.7 L293.6,125.6 L294.3,125.5 L295.0,125.4 L295.7,125.3 L296.4,125.2 L297.1,125.1 L297.8,124.9 L298.5,124.8 L299.2,124.6 L299.9,124.5 L300.6,124.3 L301.3,124.2 L302.0,124.0 L302.7,123.8 L303.4,123.6 L304.1,123.4 L304.8,123.3 L305.5,123.0 L306.2,122.8 L306.9,122.5 L307.6,122.2 L308.3,121.9 L309.0,121.5 L309.7,121.2 L310.4,120.8 L311.1,120.4 L311.8,119.9 L312.5,119.5 L313.2,119.1 L313.9,118.6 L314.6,118.2 L315.3,117.7 L316.0,117.3 L316.7,116.9 L317.4,116.4 L318.1,116.0 L318.8,115.6 L319.5,115.1 L320.2,114.6 L320.9,114.2 L321.6,113.7 L322.3,113.3 L323.0,112.9 L323.7,112.5 L324.4,112.2 L325.1,112.0 L325.8,111.7 L326.5,111.5 L327.2,111.3 L327.9,111.1 L328.6,110.9 L329.3,110.8 L330.0,110.6 L330.7,110.4 L331.4,110.2 L332.1,110.0 L332.8,109.8 L333.5,109.6 L334.2,109.4 L334.9,109.2 L335.6,109.0 L336.3,108.8 L337.0,108.5 L337.7,108.2 L338.4,107.8 L339.1,107.4 L339.8,107.0 L340.5,106.5 L341.2,106.0 L341.9,105.6 L342.6,105.1 L343.3,104.8 L344.0,104.4 L344.7,104.0 L345.4,103.5 L346.1,103.1 L346.8,102.7 L347.5,102.3 L348.2,101.9 L348.9,101.5 L349.6,101.2 L350.3,100.9 L351.0,100.8 L351.7,100.6 L352.4,100.6 L353.1,100.7 L353.8,101.0 L354.5,101.5 L355.2,101.9 L355.9,102.5 L356.6,103.4 L357.3,104.4 L358.0,105.6 L358.7,106.9 L359.4,108.4 L360.1,110.1 L360.8,111.8 L361.5,113.3 L362.2,114.8 L362.9,116.2 L363.6,117.4 L364.3,118.5 L365.0,119.4 L365.7,120.3 L366.4,121.0 L367.1,121.6 L367.8,122.2 L368.5,122.7 L369.2,123.2 L369.9,123.6 L370.6,124.0 L371.3,124.3 L372.0,124.6 L372.7,124.9 L373.4,125.2 L374.1,125.4 L374.8,125.7 L375.5,125.8 L376.2,126.0 L376.9,126.1 L377.6,126.2 L378.3,126.2 L379.0,126.3 L379.7,126.4 L380.4,126.5 L381.1,126.5 L381.8,126.6 L382.5,126.7 L383.2,126.7 L383.9,126.8 L384.6,126.8 L385.3,126.9 L386.0,126.9 L386.7,126.9 L387.4,127.0 L388.1,127.0 L388.8,127.0 L389.5,127.0 L390.2,127.0 L390.9,127.0 L391.6,127.0 L392.3,127.0 L393.0,127.0 L393.7,127.0 L394.4,127.0 L395.1,127.0 L395.8,127.0 L396.5,127.0 L397.2,127.0 L397.9,127.0 L398.6,127.0 L399.3,127.0 L400.0,127.0 L400.7,127.0 L401.4,127.0 L402.1,127.0 L402.8,127.0 L403.5,127.0 L404.2,127.0 L404.9,127.0 L405.6,127.0 L406.3,127.0 L407.0,127.0 L407.7,127.0 L408.4,127.0 L409.1,127.0 L409.8,127.0 L410.5,127.0 L411.2,127.0 L411.9,127.0 L412.6,127.0 L413.3,127.0 L414.0,127.0 L414.7,127.0 L415.4,127.0 L416.1,127.0 L416.8,127.0 L417.5,127.0 L418.2,127.0 L418.9,127.0 L419.6,127.0" fill="none" stroke="#22ee22" stroke-width="1" stroke-linejoin="round" clip-path="url(#cb)"/>
<path d="M252.3,127.3 L253.0,127.3 L253.7,127.3 L254.4,127.3 L255.1,127.3 L255.8,127.3 L256.5,127.3 L257.2,127.2 L257.9,127.2 L258.6,127.2 L259.3,127.2 L260.0,127.2 L260.7,127.2 L261.4,127.1 L262.1,127.1 L262.8,127.1 L263.5,127.1 L264.2,127.1 L264.9,127.0 L265.6,127.0 L266.3,127.0 L267.0,127.0 L267.7,126.9 L268.4,126.9 L269.1,126.9 L269.8,126.8 L270.5,126.8 L271.2,126.8 L271.9,126.8 L272.6,126.7 L273.3,126.7 L274.0,126.7 L274.7,126.6 L275.4,126.6 L276.1,126.6 L276.8,126.5 L277.5,126.5 L278.2,126.5 L278.9,126.4 L279.6,126.4 L280.3,126.3 L281.0,126.3 L281.7,126.3 L282.4,126.2 L283.1,126.2 L283.8,126.2 L284.5,126.1 L285.2,126.1 L285.9,126.0 L286.6,126.0 L287.3,126.0 L288.0,125.9 L288.7,125.9 L289.4,125.8 L290.1,125.8 L290.8,125.8 L291.5,125.7 L292.2,125.7 L292.9,125.6 L293.6,125.6 L294.3,125.5 L295.0,125.5 L295.7,125.4 L296.4,125.4 L297.1,125.3 L297.8,125.3 L298.5,125.2 L299.2,125.1 L299.9,125.1 L300.6,125.0 L301.3,124.9 L302.0,124.9 L302.7,124.8 L303.4,124.7 L304.1,124.6 L304.8,124.5 L305.5,124.4 L306.2,124.3 L306.9,124.2 L307.6,124.1 L308.3,123.9 L309.0,123.7 L309.7,123.6 L310.4,123.4 L311.1,123.2 L311.8,123.0 L312.5,122.8 L313.2,122.6 L313.9,122.4 L314.6,122.2 L315.3,122.0 L316.0,121.8 L316.7,121.6 L317.4,121.4 L318.1,121.2 L318.8,121.0 L319.5,120.8 L320.2,120.6 L320.9,120.4 L321.6,120.1 L322.3,119.9 L323.0,119.7 L323.7,119.5 L324.4,119.2 L325.1,119.0 L325.8,118.8 L326.5,118.5 L327.2,118.3 L327.9,118.1 L328.6,117.9 L329.3,117.7 L330.0,117.5 L330.7,117.4 L331.4,117.2 L332.1,117.1 L332.8,116.9 L333.5,116.8 L334.2,116.6 L334.9,116.5 L335.6,116.3 L336.3,116.2 L337.0,116.1 L337.7,116.0 L338.4,115.8 L339.1,115.7 L339.8,115.6 L340.5,115.5 L341.2,115.3 L341.9,115.2 L342.6,115.1 L343.3,114.9 L344.0,114.8 L344.7,114.6 L345.4,114.4 L346.1,114.2 L346.8,114.0 L347.5,113.9 L348.2,113.7 L348.9,113.6 L349.6,113.6 L350.3,113.6 L351.0,113.7 L351.7,113.8 L352.4,114.0 L353.1,114.2 L353.8,114.5 L354.5,114.8 L355.2,115.1 L355.9,115.4 L356.6,115.9 L357.3,116.5 L358.0,117.1 L358.7,117.7 L359.4,118.3 L360.1,118.9 L360.8,119.6 L361.5,120.3 L362.2,120.9 L362.9,121.4 L363.6,122.0 L364.3,122.5 L365.0,123.0 L365.7,123.5 L366.4,123.9 L367.1,124.3 L367.8,124.6 L368.5,124.9 L369.2,125.2 L369.9,125.5 L370.6,125.7 L371.3,125.9 L372.0,126.1 L372.7,126.3 L373.4,126.5 L374.1,126.6 L374.8,126.8 L375.5,126.9 L376.2,126.9 L376.9,126.9 L377.6,126.9 L378.3,126.9 L379.0,126.9 L379.7,126.9 L380.4,126.9 L381.1,126.9 L381.8,126.9 L382.5,126.9 L383.2,126.9 L383.9,126.9 L384.6,126.9 L385.3,126.9 L386.0,126.9 L386.7,127.0 L387.4,127.0 L388.1,127.0 L388.8,127.0 L389.5,127.0 L390.2,127.0 L390.9,127.0 L391.6,127.0 L392.3,127.0 L393.0,127.0 L393.7,127.0 L394.4,127.0 L395.1,127.0 L395.8,127.0 L396.5,127.0 L397.2,127.0 L397.9,127.0 L398.6,127.0 L399.3,127.0 L400.0,127.0 L400.7,127.0 L401.4,127.0 L402.1,127.0 L402.8,127.0 L403.5,127.0 L404.2,127.0 L404.9,127.0 L405.6,127.0 L406.3,127.0 L407.0,127.0 L407.7,127.0 L408.4,127.0 L409.1,127.0 L409.8,127.0 L410.5,127.0 L411.2,127.0 L411.9,127.0 L412.6,127.0 L413.3,127.0 L414.0,127.0 L414.7,127.0 L415.4,127.0 L416.1,127.0 L416.8,127.0 L417.5,127.0 L418.2,127.0 L418.9,127.0 L419.6,127.0" fill="none" stroke="#3030ff" stroke-width="1" stroke-linejoin="round" clip-path="url(#cb)"/>
<path d="M252.3,127.3 L253.0,127.3 L253.7,127.3 L254.4,127.3 L255.1,127.3 L255.8,127.3 L256.5,127.3 L257.2,127.3 L257.9,127.3 L258.6,127.3 L259.3,127.3 L260.0,127.2 L260.7,127.2 L261.4,127.2 L262.1,127.2 L262.8,127.2 L263.5,127.2 L264.2,127.2 L264.9,127.1 L265.6,127.1 L266.3,127.1 L267.0,127.1 L267.7,127.1 L268.4,127.1 L269.1,127.0 L269.8,127.0 L270.5,127.0 L271.2,127.0 L271.9,126.9 L272.6,126.9 L273.3,126.9 L274.0,126.9 L274.7,126.8 L275.4,126.8 L276.1,126.8 L276.8,126.8 L277.5,126.7 L278.2,126.7 L278.9,126.7 L279.6,126.6 L280.3,126.6 L281.0,126.6 L281.7,126.5 L282.4,126.5 L283.1,126.5 L283.8,126.4 L284.5,126.4 L285.2,126.4 L285.9,126.3 L286.6,126.3 L287.3,126.3 L288.0,126.2 L288.7,126.2 L289.4,126.1 L290.1,126.1 L290.8,126.1 L291.5,126.0 L292.2,126.0 L292.9,125.9 L293.6,125.9 L294.3,125.9 L295.0,125.8 L295.7,125.8 L296.4,125.7 L297.1,125.7 L297.8,125.6 L298.5,125.6 L299.2,125.6 L299.9,125.5 L300.6,125.5 L301.3,125.4 L302.0,125.4 L302.7,125.3 L303.4,125.2 L304.1,125.2 L304.8,125.1 L305.5,125.0 L306.2,124.9 L306.9,124.9 L307.6,124.8 L308.3,124.7 L309.0,124.6 L309.7,124.5 L310.4,124.4 L311.1,124.3 L311.8,124.2 L312.5,124.1 L313.2,124.0 L313.9,123.9 L314.6,123.7 L315.3,123.6 L316.0,123.5 L316.7,123.4 L317.4,123.3 L318.1,123.1 L318.8,123.0 L319.5,122.9 L320.2,122.7 L320.9,122.5 L321.6,122.4 L322.3,122.2 L323.0,122.0 L323.7,121.8 L324.4,121.6 L325.1,121.4 L325.8,121.2 L326.5,121.0 L327.2,120.9 L327.9,120.7 L328.6,120.5 L329.3,120.3 L330.0,120.1 L330.7,120.0 L331.4,119.8 L332.1,119.7 L332.8,119.5 L333.5,119.3 L334.2,119.2 L334.9,119.0 L335.6,118.9 L336.3,118.7 L337.0,118.5 L337.7,118.4 L338.4,118.2 L339.1,118.1 L339.8,118.0 L340.5,117.8 L341.2,117.7 L341.9,117.6 L342.6,117.5 L343.3,117.4 L344.0,117.3 L344.7,117.2 L345.4,117.1 L346.1,117.1 L346.8,117.0 L347.5,116.9 L348.2,116.9 L348.9,116.8 L349.6,116.8 L350.3,116.8 L351.0,116.9 L351.7,117.0 L352.4,117.2 L353.1,117.5 L353.8,117.7 L354.5,118.0 L355.2,118.3 L355.9,118.6 L356.6,119.0 L357.3,119.3 L358.0,119.7 L358.7,120.2 L359.4,120.7 L360.1,121.3 L360.8,121.8 L361.5,122.2 L362.2,122.6 L362.9,123.0 L363.6,123.3 L364.3,123.7 L365.0,124.0 L365.7,124.3 L366.4,124.6 L367.1,124.8 L367.8,125.1 L368.5,125.3 L369.2,125.4 L369.9,125.6 L370.6,125.8 L371.3,125.9 L372.0,126.0 L372.7,126.2 L373.4,126.3 L374.1,126.3 L374.8,126.4 L375.5,126.4 L376.2,126.5 L376.9,126.5 L377.6,126.6 L378.3,126.6 L379.0,126.7 L379.7,126.7 L380.4,126.7 L381.1,126.8 L381.8,126.8 L382.5,126.8 L383.2,126.9 L383.9,126.9 L384.6,126.9 L385.3,126.9 L386.0,127.0 L386.7,127.0 L387.4,127.0 L388.1,127.0 L388.8,127.0 L389.5,127.0 L390.2,127.0 L390.9,127.0 L391.6,127.0 L392.3,127.0 L393.0,127.0 L393.7,127.0 L394.4,127.0 L395.1,127.0 L395.8,127.0 L396.5,127.0 L397.2,127.0 L397.9,127.0 L398.6,127.0 L399.3,127.0 L400.0,127.0 L400.7,127.0 L401.4,127.0 L402.1,127.0 L402.8,127.0 L403.5,127.0 L404.2,127.0 L404.9,127.0 L405.6,127.0 L406.3,127.0 L407.0,127.0 L407.7,127.0 L408.4,127.0 L409.1,127.0 L409.8,127.0 L410.5,127.0 L411.2,127.0 L411.9,127.0 L412.6,127.0 L413.3,127.0 L414.0,127.0 L414.7,127.0 L415.4,127.0 L416.1,127.0 L416.8,127.0 L417.5,127.0 L418.2,127.0 L418.9,127.0 L419.6,127.0" fill="none" stroke="#20f0f0" stroke-width="1" stroke-linejoin="round" clip-path="url(#cb)"/>
<path d="M252.3,127.0 L253.0,127.0 L253.7,127.0 L254.4,127.0 L255.1,127.0 L255.8,127.0 L256.5,127.0 L257.2,127.0 L257.9,126.9 L258.6,126.9 L259.3,126.9 L260.0,126.9 L260.7,126.9 L261.4,126.9 L262.1,126.9 L262.8,126.9 L263.5,126.9 L264.2,126.9 L264.9,126.8 L265.6,126.8 L266.3,126.8 L267.0,126.8 L267.7,126.8 L268.4,126.8 L269.1,126.8 L269.8,126.7 L270.5,126.7 L271.2,126.7 L271.9,126.7 L272.6,126.7 L273.3,126.7 L274.0,126.6 L274.7,126.6 L275.4,126.6 L276.1,126.6 L276.8,126.6 L277.5,126.5 L278.2,126.5 L278.9,126.5 L279.6,126.5 L280.3,126.5 L281.0,126.4 L281.7,126.4 L282.4,126.4 L283.1,126.4 L283.8,126.4 L284.5,126.3 L285.2,126.3 L285.9,126.3 L286.6,126.3 L287.3,126.2 L288.0,126.2 L288.7,126.2 L289.4,126.2 L290.1,126.1 L290.8,126.1 L291.5,126.1 L292.2,126.1 L292.9,126.0 L293.6,126.0 L294.3,126.0 L295.0,126.0 L295.7,126.0 L296.4,125.9 L297.1,125.9 L297.8,125.9 L298.5,125.9 L299.2,125.8 L299.9,125.8 L300.6,125.8 L301.3,125.8 L302.0,125.7 L302.7,125.7 L303.4,125.7 L304.1,125.6 L304.8,125.6 L305.5,125.6 L306.2,125.6 L306.9,125.5 L307.6,125.5 L308.3,125.5 L309.0,125.4 L309.7,125.4 L310.4,125.4 L311.1,125.3 L311.8,125.3 L312.5,125.3 L313.2,125.2 L313.9,125.2 L314.6,125.2 L315.3,125.1 L316.0,125.1 L316.7,125.0 L317.4,125.0 L318.1,124.9 L318.8,124.9 L319.5,124.9 L320.2,124.8 L320.9,124.8 L321.6,124.7 L322.3,124.7 L323.0,124.6 L323.7,124.5 L324.4,124.5 L325.1,124.4 L325.8,124.3 L326.5,124.3 L327.2,124.2 L327.9,124.1 L328.6,124.0 L329.3,123.9 L330.0,123.8 L330.7,123.7 L331.4,123.6 L332.1,123.5 L332.8,123.3 L333.5,123.2 L334.2,123.1 L334.9,123.0 L335.6,122.9 L336.3,122.7 L337.0,122.6 L337.7,122.5 L338.4,122.3 L339.1,122.1 L339.8,121.9 L340.5,121.7 L341.2,121.5 L341.9,121.3 L342.6,121.1 L343.3,120.9 L344.0,120.7 L344.7,120.6 L345.4,120.4 L346.1,120.4 L346.8,120.3 L347.5,120.3 L348.2,120.4 L348.9,120.5 L349.6,120.6 L350.3,120.8 L351.0,121.0 L351.7,121.1 L352.4,121.3 L353.1,121.4 L353.8,121.6 L354.5,121.8 L355.2,121.9 L355.9,122.1 L356.6,122.3 L357.3,122.5 L358.0,122.8 L358.7,123.1 L359.4,123.4 L360.1,123.7 L360.8,124.0 L361.5,124.3 L362.2,124.5 L362.9,124.8 L363.6,125.0 L364.3,125.3 L365.0,125.5 L365.7,125.7 L366.4,125.9 L367.1,126.1 L367.8,126.3 L368.5,126.4 L369.2,126.6 L369.9,126.7 L370.6,126.9 L371.3,127.0 L372.0,127.2 L372.7,127.3 L373.4,127.4 L374.1,127.5 L374.8,127.6 L375.5,127.7 L376.2,127.7 L376.9,127.7 L377.6,127.7 L378.3,127.7 L379.0,127.7 L379.7,127.8 L380.4,127.8 L381.1,127.8 L381.8,127.8 L382.5,127.8 L383.2,127.8 L383.9,127.8 L384.6,127.8 L385.3,127.8 L386.0,127.8 L386.7,127.8 L387.4,127.9 L388.1,127.9 L388.8,127.9 L389.5,127.9 L390.2,127.9 L390.9,127.9 L391.6,127.9 L392.3,127.9 L393.0,127.9 L393.7,127.9 L394.4,127.9 L395.1,127.9 L395.8,127.9 L396.5,127.9 L397.2,127.9 L397.9,127.9 L398.6,127.9 L399.3,127.9 L400.0,128.0 L400.7,128.0 L401.4,128.0 L402.1,128.0 L402.8,128.0 L403.5,128.0 L404.2,128.0 L404.9,128.0 L405.6,128.0 L406.3,128.0 L407.0,128.0 L407.7,128.0 L408.4,128.0 L409.1,128.0 L409.8,128.0 L410.5,128.0 L411.2,128.0 L411.9,128.0 L412.6,128.0 L413.3,128.0 L414.0,128.0 L414.7,128.0 L415.4,128.0 L416.1,128.0 L416.8,128.0 L417.5,128.0 L418.2,128.0 L418.9,128.0 L419.6,128.0" fill="none" stroke="#ff30ff" stroke-width="1" stroke-linejoin="round" clip-path="url(#cb)"/>
<rect x="252.3" y="3.3" width="167.7" height="125.7" fill="none" stroke="#7e7e7e" stroke-width="1.5"/>
<line x1="249.3" y1="128.40" x2="252.3" y2="128.40" stroke="#555" stroke-width="0.9"/>
<text x="248.40" y="130.10" text-anchor="end" style="font-family:'Liberation Sans',sans-serif;font-weight:bold;font-size:6.3px;stroke:#222;stroke-width:0.12px" fill="#222">0.0</text>
<line x1="250.70000000000002" y1="117.18" x2="252.3" y2="117.18" stroke="#555" stroke-width="0.9"/>
<line x1="249.3" y1="105.95" x2="252.3" y2="105.95" stroke="#555" stroke-width="0.9"/>
<text x="248.40" y="107.65" text-anchor="end" style="font-family:'Liberation Sans',sans-serif;font-weight:bold;font-size:6.3px;stroke:#222;stroke-width:0.12px" fill="#222">0.5</text>
<line x1="250.70000000000002" y1="94.73" x2="252.3" y2="94.73" stroke="#555" stroke-width="0.9"/>
<line x1="249.3" y1="83.50" x2="252.3" y2="83.50" stroke="#555" stroke-width="0.9"/>
<text x="248.40" y="85.20" text-anchor="end" style="font-family:'Liberation Sans',sans-serif;font-weight:bold;font-size:6.3px;stroke:#222;stroke-width:0.12px" fill="#222">1.0</text>
<line x1="250.70000000000002" y1="72.28" x2="252.3" y2="72.28" stroke="#555" stroke-width="0.9"/>
<line x1="249.3" y1="61.05" x2="252.3" y2="61.05" stroke="#555" stroke-width="0.9"/>
<text x="248.40" y="62.75" text-anchor="end" style="font-family:'Liberation Sans',sans-serif;font-weight:bold;font-size:6.3px;stroke:#222;stroke-width:0.12px" fill="#222">1.5</text>
<line x1="250.70000000000002" y1="49.83" x2="252.3" y2="49.83" stroke="#555" stroke-width="0.9"/>
<line x1="249.3" y1="38.60" x2="252.3" y2="38.60" stroke="#555" stroke-width="0.9"/>
<text x="248.40" y="40.30" text-anchor="end" style="font-family:'Liberation Sans',sans-serif;font-weight:bold;font-size:6.3px;stroke:#222;stroke-width:0.12px" fill="#222">2.0</text>
<line x1="250.70000000000002" y1="27.38" x2="252.3" y2="27.38" stroke="#555" stroke-width="0.9"/>
<line x1="249.3" y1="16.15" x2="252.3" y2="16.15" stroke="#555" stroke-width="0.9"/>
<text x="248.40" y="17.85" text-anchor="end" style="font-family:'Liberation Sans',sans-serif;font-weight:bold;font-size:6.3px;stroke:#222;stroke-width:0.12px" fill="#222">2.5</text>
<line x1="250.70000000000002" y1="4.93" x2="252.3" y2="4.93" stroke="#555" stroke-width="0.9"/>
<line x1="276.26" y1="129" x2="276.26" y2="131.8" stroke="#555" stroke-width="0.9"/>
<text x="276.26" y="137.50" text-anchor="middle" style="font-family:'Liberation Sans',sans-serif;font-weight:bold;font-size:6.3px;stroke:#222;stroke-width:0.12px" fill="#222">500</text>
<line x1="300.21" y1="129" x2="300.21" y2="130.5" stroke="#555" stroke-width="0.9"/>
<line x1="324.17" y1="129" x2="324.17" y2="131.8" stroke="#555" stroke-width="0.9"/>
<text x="324.17" y="137.50" text-anchor="middle" style="font-family:'Liberation Sans',sans-serif;font-weight:bold;font-size:6.3px;stroke:#222;stroke-width:0.12px" fill="#222">600</text>
<line x1="348.13" y1="129" x2="348.13" y2="130.5" stroke="#555" stroke-width="0.9"/>
<line x1="372.09" y1="129" x2="372.09" y2="131.8" stroke="#555" stroke-width="0.9"/>
<text x="372.09" y="137.50" text-anchor="middle" style="font-family:'Liberation Sans',sans-serif;font-weight:bold;font-size:6.3px;stroke:#222;stroke-width:0.12px" fill="#222">700</text>
<line x1="396.04" y1="129" x2="396.04" y2="130.5" stroke="#555" stroke-width="0.9"/>
<line x1="420.00" y1="129" x2="420.00" y2="131.8" stroke="#555" stroke-width="0.9"/>
<text x="420.00" y="137.50" text-anchor="middle" style="font-family:'Liberation Sans',sans-serif;font-weight:bold;font-size:6.3px;stroke:#222;stroke-width:0.12px" fill="#222">800</text>
<text x="336.15" y="148.00" text-anchor="middle" style="font-family:'Liberation Sans',sans-serif;font-weight:bold;font-size:7.05px;stroke:#222;stroke-width:0.18px" fill="#222">Wavelength (nm)</text>
<text transform="translate(232.4,71.00) rotate(-90)" text-anchor="middle" style="font-family:'Liberation Sans',sans-serif;font-weight:bold;font-size:7px;stroke:#222;stroke-width:0.12px" fill="#222">Absorbance</text>
<text x="254.20" y="11.80" style="font-family:'Liberation Sans',sans-serif;font-weight:bold;font-size:9.8px;stroke:#111;stroke-width:0.3px" fill="#111">2</text>
<line x1="376" y1="34.80" x2="389.6" y2="34.80" stroke="#262626" stroke-width="1.1"/>
<text x="391.60" y="37.20" style="font-family:'Liberation Sans',sans-serif;font-weight:bold;font-size:6.25px;stroke:#222;stroke-width:0.2px" fill="#222">0</text>
<text x="402.70" y="37.20" style="font-family:'Liberation Sans',sans-serif;font-weight:bold;font-size:6.25px;stroke:#222;stroke-width:0.2px" fill="#222">min</text>
<line x1="376" y1="42.85" x2="389.6" y2="42.85" stroke="#ff3030" stroke-width="1.1"/>
<text x="391.60" y="45.25" style="font-family:'Liberation Sans',sans-serif;font-weight:bold;font-size:6.25px;stroke:#222;stroke-width:0.2px" fill="#222">30</text>
<text x="402.70" y="45.25" style="font-family:'Liberation Sans',sans-serif;font-weight:bold;font-size:6.25px;stroke:#222;stroke-width:0.2px" fill="#222">min</text>
<line x1="376" y1="50.90" x2="389.6" y2="50.90" stroke="#22ee22" stroke-width="1.1"/>
<text x="391.60" y="53.30" style="font-family:'Liberation Sans',sans-serif;font-weight:bold;font-size:6.25px;stroke:#222;stroke-width:0.2px" fill="#222">60</text>
<text x="402.70" y="53.30" style="font-family:'Liberation Sans',sans-serif;font-weight:bold;font-size:6.25px;stroke:#222;stroke-width:0.2px" fill="#222">min</text>
<line x1="376" y1="58.95" x2="389.6" y2="58.95" stroke="#3030ff" stroke-width="1.1"/>
<text x="391.60" y="61.35" style="font-family:'Liberation Sans',sans-serif;font-weight:bold;font-size:6.25px;stroke:#222;stroke-width:0.2px" fill="#222">90</text>
<text x="402.70" y="61.35" style="font-family:'Liberation Sans',sans-serif;font-weight:bold;font-size:6.25px;stroke:#222;stroke-width:0.2px" fill="#222">min</text>
<line x1="376" y1="67.00" x2="389.6" y2="67.00" stroke="#20f0f0" stroke-width="1.1"/>
<text x="391.60" y="69.40" style="font-family:'Liberation Sans',sans-serif;font-weight:bold;font-size:6.25px;stroke:#222;stroke-width:0.2px" fill="#222">100</text>
<text x="402.70" y="69.40" style="font-family:'Liberation Sans',sans-serif;font-weight:bold;font-size:6.25px;stroke:#222;stroke-width:0.2px" fill="#222">min</text>
<line x1="376" y1="75.05" x2="389.6" y2="75.05" stroke="#ff30ff" stroke-width="1.1"/>
<text x="391.60" y="77.45" style="font-family:'Liberation Sans',sans-serif;font-weight:bold;font-size:6.25px;stroke:#222;stroke-width:0.2px" fill="#222">120</text>
<text x="402.70" y="77.45" style="font-family:'Liberation Sans',sans-serif;font-weight:bold;font-size:6.25px;stroke:#222;stroke-width:0.2px" fill="#222">min</text>
<line x1="371.5" y1="30.3" x2="371.5" y2="80.9" stroke="#2a2a2a" stroke-width="1"/>
<path d="M370.0,79.7 L373.0,79.7 L371.5,83.5 Z" fill="#222"/>
<text x="325.50" y="162.80" text-anchor="middle" style="font-family:'Liberation Serif',serif;font-weight:bold;font-size:11.2px;stroke:#222;stroke-width:0.1px" fill="#222">(b)</text>
<clipPath id="cc"><rect x="27" y="167.0" width="169.8" height="126.5"/></clipPath>
<path d="M27.0,290.8 L27.7,290.8 L28.4,290.7 L29.1,290.7 L29.8,290.6 L30.5,290.6 L31.2,290.5 L31.9,290.5 L32.6,290.4 L33.3,290.4 L34.0,290.3 L34.7,290.3 L35.4,290.2 L36.1,290.2 L36.8,290.1 L37.5,290.1 L38.2,290.0 L38.9,290.0 L39.6,289.9 L40.3,289.9 L41.0,289.8 L41.7,289.8 L42.4,289.7 L43.1,289.7 L43.8,289.6 L44.5,289.5 L45.2,289.5 L45.9,289.4 L46.6,289.4 L47.3,289.3 L48.0,289.3 L48.7,289.2 L49.4,289.2 L50.1,289.1 L50.8,289.1 L51.5,289.0 L52.2,289.0 L52.9,288.9 L53.6,288.8 L54.3,288.8 L55.0,288.7 L55.7,288.7 L56.4,288.6 L57.1,288.5 L57.8,288.5 L58.5,288.4 L59.2,288.3 L59.9,288.2 L60.6,288.2 L61.3,288.1 L62.0,288.0 L62.7,287.9 L63.4,287.8 L64.1,287.7 L64.8,287.5 L65.5,287.4 L66.2,287.2 L66.9,287.0 L67.6,286.8 L68.3,286.5 L69.0,286.2 L69.7,285.9 L70.4,285.5 L71.1,285.1 L71.8,284.7 L72.5,284.3 L73.2,283.9 L73.9,283.4 L74.6,282.9 L75.3,282.4 L76.0,281.9 L76.7,281.4 L77.4,280.9 L78.1,280.4 L78.8,279.8 L79.5,279.3 L80.2,278.7 L80.9,278.1 L81.6,277.5 L82.3,276.8 L83.0,276.1 L83.7,275.4 L84.4,274.6 L85.1,273.8 L85.8,273.0 L86.5,272.1 L87.2,271.1 L87.9,270.1 L88.6,269.1 L89.3,268.0 L90.0,266.8 L90.7,265.4 L91.4,263.8 L92.1,262.1 L92.8,260.2 L93.5,258.3 L94.2,256.4 L94.9,254.4 L95.6,252.3 L96.3,250.0 L97.0,247.5 L97.7,245.0 L98.4,242.5 L99.1,240.2 L99.8,238.1 L100.5,236.4 L101.2,234.9 L101.9,233.3 L102.6,231.9 L103.3,230.6 L104.0,229.6 L104.7,229.0 L105.4,228.9 L106.1,229.0 L106.8,229.3 L107.5,229.7 L108.2,230.1 L108.9,230.5 L109.6,230.9 L110.3,231.4 L111.0,231.9 L111.7,232.4 L112.4,232.8 L113.1,233.0 L113.8,232.9 L114.5,232.5 L115.2,231.8 L115.9,231.0 L116.6,229.9 L117.3,228.8 L118.0,227.7 L118.7,226.3 L119.4,224.3 L120.1,222.1 L120.8,219.7 L121.5,217.4 L122.2,215.0 L122.9,212.6 L123.6,210.1 L124.3,207.8 L125.0,205.5 L125.7,203.2 L126.4,201.0 L127.1,199.0 L127.8,197.2 L128.5,195.6 L129.2,194.1 L129.9,192.9 L130.6,192.4 L131.3,192.8 L132.0,193.9 L132.7,195.4 L133.4,197.3 L134.1,201.0 L134.8,206.6 L135.5,213.0 L136.2,219.1 L136.9,224.9 L137.6,230.7 L138.3,236.2 L139.0,241.6 L139.7,247.5 L140.4,253.3 L141.1,258.3 L141.8,262.8 L142.5,266.4 L143.2,269.2 L143.9,271.7 L144.6,274.2 L145.3,276.8 L146.0,279.1 L146.7,281.0 L147.4,282.7 L148.1,284.2 L148.8,285.3 L149.5,286.3 L150.2,287.2 L150.9,288.0 L151.6,288.6 L152.3,289.1 L153.0,289.5 L153.7,289.9 L154.4,290.2 L155.1,290.4 L155.8,290.6 L156.5,290.8 L157.2,290.9 L157.9,291.1 L158.6,291.2 L159.3,291.3 L160.0,291.4 L160.7,291.4 L161.4,291.4 L162.1,291.5 L162.8,291.5 L163.5,291.5 L164.2,291.6 L164.9,291.6 L165.6,291.6 L166.3,291.6 L167.0,291.7 L167.7,291.7 L168.4,291.7 L169.1,291.7 L169.8,291.7 L170.5,291.7 L171.2,291.7 L171.9,291.8 L172.6,291.8 L173.3,291.8 L174.0,291.8 L174.7,291.8 L175.4,291.8 L176.1,291.8 L176.8,291.8 L177.5,291.8 L178.2,291.8 L178.9,291.9 L179.6,291.9 L180.3,291.9 L181.0,291.9 L181.7,291.9 L182.4,291.9 L183.1,291.9 L183.8,291.9 L184.5,291.9 L185.2,291.9 L185.9,291.9 L186.6,291.9 L187.3,292.0 L188.0,292.0 L188.7,292.0 L189.4,292.0 L190.1,292.0 L190.8,292.0 L191.5,292.0 L192.2,292.0 L192.9,292.0 L193.6,292.0 L194.3,292.0 L195.0,292.0 L195.7,292.0 L196.4,292.0" fill="none" stroke="#262626" stroke-width="1" stroke-linejoin="round" clip-path="url(#cc)"/>
<path d="M27.0,291.2 L27.7,291.2 L28.4,291.2 L29.1,291.1 L29.8,291.1 L30.5,291.1 L31.2,291.1 L31.9,291.0 L32.6,291.0 L33.3,291.0 L34.0,290.9 L34.7,290.9 L35.4,290.9 L36.1,290.9 L36.8,290.8 L37.5,290.8 L38.2,290.8 L38.9,290.8 L39.6,290.7 L40.3,290.7 L41.0,290.7 L41.7,290.6 L42.4,290.6 L43.1,290.6 L43.8,290.6 L44.5,290.5 L45.2,290.5 L45.9,290.5 L46.6,290.4 L47.3,290.4 L48.0,290.4 L48.7,290.4 L49.4,290.3 L50.1,290.3 L50.8,290.3 L51.5,290.2 L52.2,290.2 L52.9,290.2 L53.6,290.2 L54.3,290.1 L55.0,290.1 L55.7,290.1 L56.4,290.0 L57.1,290.0 L57.8,290.0 L58.5,289.9 L59.2,289.9 L59.9,289.9 L60.6,289.8 L61.3,289.8 L62.0,289.7 L62.7,289.7 L63.4,289.6 L64.1,289.6 L64.8,289.5 L65.5,289.5 L66.2,289.4 L66.9,289.3 L67.6,289.2 L68.3,289.1 L69.0,288.9 L69.7,288.8 L70.4,288.6 L71.1,288.4 L71.8,288.3 L72.5,288.1 L73.2,287.9 L73.9,287.7 L74.6,287.5 L75.3,287.2 L76.0,287.0 L76.7,286.8 L77.4,286.5 L78.1,286.3 L78.8,286.0 L79.5,285.8 L80.2,285.5 L80.9,285.1 L81.6,284.8 L82.3,284.4 L83.0,284.1 L83.7,283.7 L84.4,283.2 L85.1,282.8 L85.8,282.3 L86.5,281.9 L87.2,281.4 L87.9,280.9 L88.6,280.3 L89.3,279.8 L90.0,279.2 L90.7,278.7 L91.4,278.1 L92.1,277.5 L92.8,276.8 L93.5,276.1 L94.2,275.3 L94.9,274.5 L95.6,273.6 L96.3,272.7 L97.0,271.7 L97.7,270.8 L98.4,269.9 L99.1,269.1 L99.8,268.2 L100.5,267.3 L101.2,266.3 L101.9,265.3 L102.6,264.4 L103.3,263.6 L104.0,263.0 L104.7,262.6 L105.4,262.4 L106.1,262.3 L106.8,262.3 L107.5,262.2 L108.2,262.2 L108.9,262.1 L109.6,262.0 L110.3,262.0 L111.0,261.9 L111.7,261.8 L112.4,261.6 L113.1,261.5 L113.8,261.1 L114.5,260.6 L115.2,259.9 L115.9,259.2 L116.6,258.4 L117.3,257.7 L118.0,256.9 L118.7,256.1 L119.4,255.2 L120.1,254.3 L120.8,253.3 L121.5,252.2 L122.2,251.0 L122.9,249.7 L123.6,248.4 L124.3,247.1 L125.0,246.0 L125.7,244.9 L126.4,243.9 L127.1,243.0 L127.8,242.2 L128.5,241.5 L129.2,240.9 L129.9,240.4 L130.6,240.2 L131.3,240.6 L132.0,241.4 L132.7,242.6 L133.4,244.0 L134.1,245.5 L134.8,247.9 L135.5,251.1 L136.2,254.0 L136.9,256.5 L137.6,258.8 L138.3,261.1 L139.0,263.5 L139.7,266.2 L140.4,269.0 L141.1,271.9 L141.8,274.9 L142.5,277.7 L143.2,280.0 L143.9,282.0 L144.6,283.5 L145.3,284.8 L146.0,286.0 L146.7,287.0 L147.4,287.7 L148.1,288.3 L148.8,288.8 L149.5,289.2 L150.2,289.6 L150.9,289.9 L151.6,290.2 L152.3,290.4 L153.0,290.7 L153.7,290.9 L154.4,291.1 L155.1,291.2 L155.8,291.3 L156.5,291.4 L157.2,291.4 L157.9,291.5 L158.6,291.5 L159.3,291.5 L160.0,291.6 L160.7,291.6 L161.4,291.6 L162.1,291.6 L162.8,291.7 L163.5,291.7 L164.2,291.7 L164.9,291.7 L165.6,291.7 L166.3,291.7 L167.0,291.8 L167.7,291.8 L168.4,291.8 L169.1,291.8 L169.8,291.8 L170.5,291.8 L171.2,291.8 L171.9,291.8 L172.6,291.8 L173.3,291.8 L174.0,291.8 L174.7,291.9 L175.4,291.9 L176.1,291.9 L176.8,291.9 L177.5,291.9 L178.2,291.9 L178.9,291.9 L179.6,291.9 L180.3,291.9 L181.0,291.9 L181.7,291.9 L182.4,291.9 L183.1,291.9 L183.8,291.9 L184.5,292.0 L185.2,292.0 L185.9,292.0 L186.6,292.0 L187.3,292.0 L188.0,292.0 L188.7,292.0 L189.4,292.0 L190.1,292.0 L190.8,292.0 L191.5,292.0 L192.2,292.0 L192.9,292.0 L193.6,292.0 L194.3,292.0 L195.0,292.0 L195.7,292.0 L196.4,292.0" fill="none" stroke="#ff3030" stroke-width="1" stroke-linejoin="round" clip-path="url(#cc)"/>
<path d="M27.0,291.8 L27.7,291.8 L28.4,291.8 L29.1,291.8 L29.8,291.8 L30.5,291.8 L31.2,291.8 L31.9,291.8 L32.6,291.8 L33.3,291.8 L34.0,291.8 L34.7,291.7 L35.4,291.7 L36.1,291.7 L36.8,291.7 L37.5,291.7 L38.2,291.7 L38.9,291.7 L39.6,291.7 L40.3,291.6 L41.0,291.6 L41.7,291.6 L42.4,291.6 L43.1,291.6 L43.8,291.6 L44.5,291.5 L45.2,291.5 L45.9,291.5 L46.6,291.5 L47.3,291.5 L48.0,291.4 L48.7,291.4 L49.4,291.4 L50.1,291.4 L50.8,291.3 L51.5,291.3 L52.2,291.3 L52.9,291.3 L53.6,291.2 L54.3,291.2 L55.0,291.2 L55.7,291.2 L56.4,291.1 L57.1,291.1 L57.8,291.1 L58.5,291.1 L59.2,291.0 L59.9,291.0 L60.6,291.0 L61.3,290.9 L62.0,290.9 L62.7,290.9 L63.4,290.8 L64.1,290.8 L64.8,290.8 L65.5,290.7 L66.2,290.7 L66.9,290.6 L67.6,290.6 L68.3,290.5 L69.0,290.5 L69.7,290.4 L70.4,290.4 L71.1,290.3 L71.8,290.2 L72.5,290.2 L73.2,290.1 L73.9,290.0 L74.6,290.0 L75.3,289.9 L76.0,289.8 L76.7,289.7 L77.4,289.7 L78.1,289.6 L78.8,289.5 L79.5,289.4 L80.2,289.3 L80.9,289.1 L81.6,289.0 L82.3,288.8 L83.0,288.7 L83.7,288.5 L84.4,288.3 L85.1,288.1 L85.8,287.9 L86.5,287.6 L87.2,287.4 L87.9,287.2 L88.6,286.9 L89.3,286.7 L90.0,286.4 L90.7,286.1 L91.4,285.9 L92.1,285.6 L92.8,285.3 L93.5,284.9 L94.2,284.5 L94.9,284.1 L95.6,283.7 L96.3,283.2 L97.0,282.7 L97.7,282.3 L98.4,281.8 L99.1,281.4 L99.8,281.0 L100.5,280.5 L101.2,280.1 L101.9,279.6 L102.6,279.2 L103.3,278.8 L104.0,278.4 L104.7,278.1 L105.4,277.9 L106.1,277.7 L106.8,277.5 L107.5,277.3 L108.2,277.2 L108.9,277.0 L109.6,276.9 L110.3,276.7 L111.0,276.5 L111.7,276.3 L112.4,276.1 L113.1,275.8 L113.8,275.5 L114.5,275.2 L115.2,274.9 L115.9,274.4 L116.6,273.9 L117.3,273.3 L118.0,272.7 L118.7,272.0 L119.4,271.4 L120.1,270.9 L120.8,270.4 L121.5,270.0 L122.2,269.5 L122.9,269.0 L123.6,268.6 L124.3,268.3 L125.0,268.0 L125.7,267.8 L126.4,267.5 L127.1,267.3 L127.8,267.1 L128.5,267.0 L129.2,267.0 L129.9,267.3 L130.6,267.7 L131.3,268.3 L132.0,269.0 L132.7,269.9 L133.4,271.0 L134.1,272.2 L134.8,273.6 L135.5,275.1 L136.2,276.6 L136.9,278.0 L137.6,279.4 L138.3,280.8 L139.0,282.0 L139.7,283.2 L140.4,284.3 L141.1,285.4 L141.8,286.2 L142.5,286.9 L143.2,287.6 L143.9,288.1 L144.6,288.7 L145.3,289.1 L146.0,289.4 L146.7,289.8 L147.4,290.1 L148.1,290.3 L148.8,290.6 L149.5,290.8 L150.2,290.9 L150.9,291.0 L151.6,291.1 L152.3,291.2 L153.0,291.2 L153.7,291.3 L154.4,291.3 L155.1,291.4 L155.8,291.4 L156.5,291.5 L157.2,291.5 L157.9,291.6 L158.6,291.6 L159.3,291.6 L160.0,291.7 L160.7,291.7 L161.4,291.7 L162.1,291.7 L162.8,291.8 L163.5,291.8 L164.2,291.8 L164.9,291.8 L165.6,291.8 L166.3,291.8 L167.0,291.8 L167.7,291.8 L168.4,291.8 L169.1,291.8 L169.8,291.9 L170.5,291.9 L171.2,291.9 L171.9,291.9 L172.6,291.9 L173.3,291.9 L174.0,291.9 L174.7,291.9 L175.4,291.9 L176.1,291.9 L176.8,291.9 L177.5,291.9 L178.2,291.9 L178.9,291.9 L179.6,291.9 L180.3,291.9 L181.0,292.0 L181.7,292.0 L182.4,292.0 L183.1,292.0 L183.8,292.0 L184.5,292.0 L185.2,292.0 L185.9,292.0 L186.6,292.0 L187.3,292.0 L188.0,292.0 L188.7,292.0 L189.4,292.0 L190.1,292.0 L190.8,292.0 L191.5,292.0 L192.2,292.0 L192.9,292.0 L193.6,292.0 L194.3,292.0 L195.0,292.0 L195.7,292.0 L196.4,292.0" fill="none" stroke="#22ee22" stroke-width="1" stroke-linejoin="round" clip-path="url(#cc)"/>
<path d="M27.0,291.5 L27.7,291.5 L28.4,291.5 L29.1,291.5 L29.8,291.5 L30.5,291.5 L31.2,291.5 L31.9,291.5 L32.6,291.5 L33.3,291.5 L34.0,291.5 L34.7,291.5 L35.4,291.5 L36.1,291.5 L36.8,291.5 L37.5,291.5 L38.2,291.5 L38.9,291.5 L39.6,291.5 L40.3,291.5 L41.0,291.5 L41.7,291.5 L42.4,291.5 L43.1,291.4 L43.8,291.4 L44.5,291.4 L45.2,291.4 L45.9,291.4 L46.6,291.4 L47.3,291.4 L48.0,291.4 L48.7,291.4 L49.4,291.4 L50.1,291.4 L50.8,291.4 L51.5,291.4 L52.2,291.4 L52.9,291.4 L53.6,291.4 L54.3,291.4 L55.0,291.4 L55.7,291.3 L56.4,291.3 L57.1,291.3 L57.8,291.3 L58.5,291.3 L59.2,291.3 L59.9,291.3 L60.6,291.3 L61.3,291.3 L62.0,291.3 L62.7,291.3 L63.4,291.2 L64.1,291.2 L64.8,291.2 L65.5,291.2 L66.2,291.2 L66.9,291.1 L67.6,291.1 L68.3,291.1 L69.0,291.1 L69.7,291.0 L70.4,291.0 L71.1,291.0 L71.8,291.0 L72.5,290.9 L73.2,290.9 L73.9,290.9 L74.6,290.8 L75.3,290.8 L76.0,290.7 L76.7,290.7 L77.4,290.7 L78.1,290.6 L78.8,290.6 L79.5,290.5 L80.2,290.5 L80.9,290.4 L81.6,290.4 L82.3,290.3 L83.0,290.2 L83.7,290.2 L84.4,290.1 L85.1,290.0 L85.8,289.9 L86.5,289.8 L87.2,289.7 L87.9,289.6 L88.6,289.5 L89.3,289.4 L90.0,289.3 L90.7,289.2 L91.4,289.1 L92.1,288.9 L92.8,288.8 L93.5,288.7 L94.2,288.5 L94.9,288.3 L95.6,288.2 L96.3,288.0 L97.0,287.8 L97.7,287.6 L98.4,287.4 L99.1,287.1 L99.8,286.9 L100.5,286.7 L101.2,286.5 L101.9,286.3 L102.6,286.1 L103.3,285.9 L104.0,285.7 L104.7,285.6 L105.4,285.4 L106.1,285.3 L106.8,285.1 L107.5,285.0 L108.2,284.8 L108.9,284.7 L109.6,284.6 L110.3,284.4 L111.0,284.3 L111.7,284.2 L112.4,284.0 L113.1,283.9 L113.8,283.7 L114.5,283.6 L115.2,283.5 L115.9,283.3 L116.6,283.1 L117.3,282.9 L118.0,282.7 L118.7,282.5 L119.4,282.3 L120.1,282.1 L120.8,281.9 L121.5,281.7 L122.2,281.5 L122.9,281.4 L123.6,281.3 L124.3,281.2 L125.0,281.2 L125.7,281.2 L126.4,281.2 L127.1,281.3 L127.8,281.3 L128.5,281.3 L129.2,281.5 L129.9,281.7 L130.6,281.9 L131.3,282.2 L132.0,282.5 L132.7,282.8 L133.4,283.2 L134.1,283.7 L134.8,284.3 L135.5,284.8 L136.2,285.4 L136.9,286.0 L137.6,286.6 L138.3,287.2 L139.0,287.8 L139.7,288.3 L140.4,288.7 L141.1,289.0 L141.8,289.3 L142.5,289.6 L143.2,289.9 L143.9,290.1 L144.6,290.3 L145.3,290.5 L146.0,290.6 L146.7,290.7 L147.4,290.9 L148.1,291.0 L148.8,291.1 L149.5,291.2 L150.2,291.3 L150.9,291.4 L151.6,291.5 L152.3,291.5 L153.0,291.6 L153.7,291.7 L154.4,291.7 L155.1,291.7 L155.8,291.7 L156.5,291.7 L157.2,291.7 L157.9,291.7 L158.6,291.8 L159.3,291.8 L160.0,291.8 L160.7,291.8 L161.4,291.8 L162.1,291.8 L162.8,291.8 L163.5,291.8 L164.2,291.8 L164.9,291.8 L165.6,291.8 L166.3,291.9 L167.0,291.9 L167.7,291.9 L168.4,291.9 L169.1,291.9 L169.8,291.9 L170.5,291.9 L171.2,291.9 L171.9,291.9 L172.6,291.9 L173.3,291.9 L174.0,291.9 L174.7,291.9 L175.4,291.9 L176.1,291.9 L176.8,291.9 L177.5,291.9 L178.2,292.0 L178.9,292.0 L179.6,292.0 L180.3,292.0 L181.0,292.0 L181.7,292.0 L182.4,292.0 L183.1,292.0 L183.8,292.0 L184.5,292.0 L185.2,292.0 L185.9,292.0 L186.6,292.0 L187.3,292.0 L188.0,292.0 L188.7,292.0 L189.4,292.0 L190.1,292.0 L190.8,292.0 L191.5,292.0 L192.2,292.0 L192.9,292.0 L193.6,292.0 L194.3,292.0 L195.0,292.0 L195.7,292.0 L196.4,292.0" fill="none" stroke="#3030ff" stroke-width="1" stroke-linejoin="round" clip-path="url(#cc)"/>
<path d="M27.0,290.2 L27.7,290.2 L28.4,290.2 L29.1,290.2 L29.8,290.2 L30.5,290.2 L31.2,290.2 L31.9,290.2 L32.6,290.2 L33.3,290.2 L34.0,290.3 L34.7,290.3 L35.4,290.3 L36.1,290.3 L36.8,290.3 L37.5,290.3 L38.2,290.3 L38.9,290.3 L39.6,290.3 L40.3,290.3 L41.0,290.3 L41.7,290.3 L42.4,290.3 L43.1,290.3 L43.8,290.3 L44.5,290.3 L45.2,290.3 L45.9,290.3 L46.6,290.3 L47.3,290.3 L48.0,290.3 L48.7,290.3 L49.4,290.3 L50.1,290.3 L50.8,290.3 L51.5,290.3 L52.2,290.3 L52.9,290.3 L53.6,290.3 L54.3,290.3 L55.0,290.3 L55.7,290.3 L56.4,290.3 L57.1,290.3 L57.8,290.3 L58.5,290.3 L59.2,290.3 L59.9,290.3 L60.6,290.3 L61.3,290.3 L62.0,290.3 L62.7,290.3 L63.4,290.3 L64.1,290.3 L64.8,290.3 L65.5,290.3 L66.2,290.3 L66.9,290.3 L67.6,290.2 L68.3,290.2 L69.0,290.2 L69.7,290.2 L70.4,290.2 L71.1,290.2 L71.8,290.2 L72.5,290.2 L73.2,290.1 L73.9,290.1 L74.6,290.1 L75.3,290.1 L76.0,290.1 L76.7,290.0 L77.4,290.0 L78.1,290.0 L78.8,290.0 L79.5,289.9 L80.2,289.9 L80.9,289.9 L81.6,289.9 L82.3,289.8 L83.0,289.8 L83.7,289.8 L84.4,289.8 L85.1,289.7 L85.8,289.7 L86.5,289.7 L87.2,289.6 L87.9,289.6 L88.6,289.6 L89.3,289.5 L90.0,289.5 L90.7,289.5 L91.4,289.4 L92.1,289.3 L92.8,289.2 L93.5,289.2 L94.2,289.0 L94.9,288.9 L95.6,288.8 L96.3,288.7 L97.0,288.5 L97.7,288.4 L98.4,288.3 L99.1,288.1 L99.8,288.0 L100.5,287.8 L101.2,287.7 L101.9,287.6 L102.6,287.4 L103.3,287.3 L104.0,287.2 L104.7,287.0 L105.4,286.9 L106.1,286.8 L106.8,286.7 L107.5,286.6 L108.2,286.5 L108.9,286.4 L109.6,286.3 L110.3,286.2 L111.0,286.1 L111.7,286.0 L112.4,285.9 L113.1,285.8 L113.8,285.7 L114.5,285.6 L115.2,285.5 L115.9,285.4 L116.6,285.3 L117.3,285.2 L118.0,285.0 L118.7,284.9 L119.4,284.8 L120.1,284.7 L120.8,284.6 L121.5,284.5 L122.2,284.4 L122.9,284.4 L123.6,284.3 L124.3,284.2 L125.0,284.2 L125.7,284.2 L126.4,284.1 L127.1,284.1 L127.8,284.1 L128.5,284.1 L129.2,284.2 L129.9,284.3 L130.6,284.5 L131.3,284.7 L132.0,285.0 L132.7,285.2 L133.4,285.5 L134.1,285.9 L134.8,286.3 L135.5,286.8 L136.2,287.3 L136.9,287.7 L137.6,288.1 L138.3,288.4 L139.0,288.7 L139.7,289.1 L140.4,289.4 L141.1,289.6 L141.8,289.9 L142.5,290.1 L143.2,290.4 L143.9,290.5 L144.6,290.7 L145.3,290.8 L146.0,290.9 L146.7,291.0 L147.4,291.1 L148.1,291.2 L148.8,291.3 L149.5,291.3 L150.2,291.4 L150.9,291.5 L151.6,291.5 L152.3,291.5 L153.0,291.5 L153.7,291.5 L154.4,291.6 L155.1,291.6 L155.8,291.6 L156.5,291.6 L157.2,291.6 L157.9,291.6 L158.6,291.7 L159.3,291.7 L160.0,291.7 L160.7,291.7 L161.4,291.7 L162.1,291.7 L162.8,291.7 L163.5,291.7 L164.2,291.8 L164.9,291.8 L165.6,291.8 L166.3,291.8 L167.0,291.8 L167.7,291.8 L168.4,291.8 L169.1,291.8 L169.8,291.8 L170.5,291.8 L171.2,291.9 L171.9,291.9 L172.6,291.9 L173.3,291.9 L174.0,291.9 L174.7,291.9 L175.4,291.9 L176.1,291.9 L176.8,291.9 L177.5,291.9 L178.2,291.9 L178.9,291.9 L179.6,291.9 L180.3,291.9 L181.0,291.9 L181.7,292.0 L182.4,292.0 L183.1,292.0 L183.8,292.0 L184.5,292.0 L185.2,292.0 L185.9,292.0 L186.6,292.0 L187.3,292.0 L188.0,292.0 L188.7,292.0 L189.4,292.0 L190.1,292.0 L190.8,292.0 L191.5,292.0 L192.2,292.0 L192.9,292.0 L193.6,292.0 L194.3,292.0 L195.0,292.0 L195.7,292.0 L196.4,292.0" fill="none" stroke="#20f0f0" stroke-width="1" stroke-linejoin="round" clip-path="url(#cc)"/>
<path d="M27.0,290.2 L27.7,290.2 L28.4,290.2 L29.1,290.2 L29.8,290.3 L30.5,290.3 L31.2,290.3 L31.9,290.3 L32.6,290.3 L33.3,290.3 L34.0,290.3 L34.7,290.3 L35.4,290.4 L36.1,290.4 L36.8,290.4 L37.5,290.4 L38.2,290.4 L38.9,290.4 L39.6,290.4 L40.3,290.4 L41.0,290.4 L41.7,290.4 L42.4,290.4 L43.1,290.4 L43.8,290.4 L44.5,290.5 L45.2,290.5 L45.9,290.5 L46.6,290.5 L47.3,290.5 L48.0,290.5 L48.7,290.5 L49.4,290.5 L50.1,290.5 L50.8,290.5 L51.5,290.5 L52.2,290.5 L52.9,290.5 L53.6,290.5 L54.3,290.5 L55.0,290.5 L55.7,290.5 L56.4,290.5 L57.1,290.5 L57.8,290.5 L58.5,290.5 L59.2,290.5 L59.9,290.5 L60.6,290.5 L61.3,290.5 L62.0,290.5 L62.7,290.5 L63.4,290.5 L64.1,290.5 L64.8,290.5 L65.5,290.5 L66.2,290.5 L66.9,290.5 L67.6,290.5 L68.3,290.4 L69.0,290.4 L69.7,290.4 L70.4,290.4 L71.1,290.4 L71.8,290.4 L72.5,290.4 L73.2,290.4 L73.9,290.4 L74.6,290.3 L75.3,290.3 L76.0,290.3 L76.7,290.3 L77.4,290.3 L78.1,290.3 L78.8,290.3 L79.5,290.2 L80.2,290.2 L80.9,290.2 L81.6,290.2 L82.3,290.2 L83.0,290.2 L83.7,290.1 L84.4,290.1 L85.1,290.1 L85.8,290.1 L86.5,290.1 L87.2,290.1 L87.9,290.0 L88.6,290.0 L89.3,290.0 L90.0,290.0 L90.7,290.0 L91.4,290.0 L92.1,289.9 L92.8,289.9 L93.5,289.9 L94.2,289.9 L94.9,289.9 L95.6,289.9 L96.3,289.8 L97.0,289.8 L97.7,289.8 L98.4,289.8 L99.1,289.7 L99.8,289.7 L100.5,289.7 L101.2,289.7 L101.9,289.6 L102.6,289.6 L103.3,289.6 L104.0,289.5 L104.7,289.5 L105.4,289.5 L106.1,289.4 L106.8,289.4 L107.5,289.4 L108.2,289.3 L108.9,289.3 L109.6,289.3 L110.3,289.2 L111.0,289.2 L111.7,289.1 L112.4,289.1 L113.1,289.0 L113.8,289.0 L114.5,288.9 L115.2,288.9 L115.9,288.8 L116.6,288.8 L117.3,288.7 L118.0,288.7 L118.7,288.6 L119.4,288.5 L120.1,288.5 L120.8,288.4 L121.5,288.4 L122.2,288.3 L122.9,288.2 L123.6,288.1 L124.3,288.1 L125.0,288.0 L125.7,288.0 L126.4,288.0 L127.1,288.1 L127.8,288.2 L128.5,288.3 L129.2,288.4 L129.9,288.5 L130.6,288.6 L131.3,288.8 L132.0,288.9 L132.7,289.1 L133.4,289.3 L134.1,289.4 L134.8,289.6 L135.5,289.7 L136.2,289.8 L136.9,289.9 L137.6,290.0 L138.3,290.2 L139.0,290.3 L139.7,290.4 L140.4,290.5 L141.1,290.6 L141.8,290.7 L142.5,290.8 L143.2,290.9 L143.9,291.0 L144.6,291.0 L145.3,291.1 L146.0,291.2 L146.7,291.3 L147.4,291.4 L148.1,291.4 L148.8,291.5 L149.5,291.6 L150.2,291.6 L150.9,291.7 L151.6,291.7 L152.3,291.7 L153.0,291.7 L153.7,291.7 L154.4,291.7 L155.1,291.7 L155.8,291.8 L156.5,291.8 L157.2,291.8 L157.9,291.8 L158.6,291.8 L159.3,291.8 L160.0,291.8 L160.7,291.8 L161.4,291.8 L162.1,291.8 L162.8,291.8 L163.5,291.8 L164.2,291.9 L164.9,291.9 L165.6,291.9 L166.3,291.9 L167.0,291.9 L167.7,291.9 L168.4,291.9 L169.1,291.9 L169.8,291.9 L170.5,291.9 L171.2,291.9 L171.9,291.9 L172.6,291.9 L173.3,291.9 L174.0,291.9 L174.7,291.9 L175.4,291.9 L176.1,291.9 L176.8,292.0 L177.5,292.0 L178.2,292.0 L178.9,292.0 L179.6,292.0 L180.3,292.0 L181.0,292.0 L181.7,292.0 L182.4,292.0 L183.1,292.0 L183.8,292.0 L184.5,292.0 L185.2,292.0 L185.9,292.0 L186.6,292.0 L187.3,292.0 L188.0,292.0 L188.7,292.0 L189.4,292.0 L190.1,292.0 L190.8,292.0 L191.5,292.0 L192.2,292.0 L192.9,292.0 L193.6,292.0 L194.3,292.0 L195.0,292.0 L195.7,292.0 L196.4,292.0" fill="none" stroke="#ff30ff" stroke-width="1" stroke-linejoin="round" clip-path="url(#cc)"/>
<rect x="27" y="167.5" width="169.8" height="126.0" fill="none" stroke="#7e7e7e" stroke-width="1.5"/>
<line x1="24" y1="293.50" x2="27" y2="293.50" stroke="#555" stroke-width="0.9"/>
<text x="23.10" y="295.20" text-anchor="end" style="font-family:'Liberation Sans',sans-serif;font-weight:bold;font-size:6.3px;stroke:#222;stroke-width:0.12px" fill="#222">0.0</text>
<line x1="25.4" y1="282.25" x2="27" y2="282.25" stroke="#555" stroke-width="0.9"/>
<line x1="24" y1="271.00" x2="27" y2="271.00" stroke="#555" stroke-width="0.9"/>
<text x="23.10" y="272.70" text-anchor="end" style="font-family:'Liberation Sans',sans-serif;font-weight:bold;font-size:6.3px;stroke:#222;stroke-width:0.12px" fill="#222">0.5</text>
<line x1="25.4" y1="259.75" x2="27" y2="259.75" stroke="#555" stroke-width="0.9"/>
<line x1="24" y1="248.50" x2="27" y2="248.50" stroke="#555" stroke-width="0.9"/>
<text x="23.10" y="250.20" text-anchor="end" style="font-family:'Liberation Sans',sans-serif;font-weight:bold;font-size:6.3px;stroke:#222;stroke-width:0.12px" fill="#222">1.0</text>
<line x1="25.4" y1="237.25" x2="27" y2="237.25" stroke="#555" stroke-width="0.9"/>
<line x1="24" y1="226.00" x2="27" y2="226.00" stroke="#555" stroke-width="0.9"/>
<text x="23.10" y="227.70" text-anchor="end" style="font-family:'Liberation Sans',sans-serif;font-weight:bold;font-size:6.3px;stroke:#222;stroke-width:0.12px" fill="#222">1.5</text>
<line x1="25.4" y1="214.75" x2="27" y2="214.75" stroke="#555" stroke-width="0.9"/>
<line x1="24" y1="203.50" x2="27" y2="203.50" stroke="#555" stroke-width="0.9"/>
<text x="23.10" y="205.20" text-anchor="end" style="font-family:'Liberation Sans',sans-serif;font-weight:bold;font-size:6.3px;stroke:#222;stroke-width:0.12px" fill="#222">2.0</text>
<line x1="25.4" y1="192.25" x2="27" y2="192.25" stroke="#555" stroke-width="0.9"/>
<line x1="24" y1="181.00" x2="27" y2="181.00" stroke="#555" stroke-width="0.9"/>
<text x="23.10" y="182.70" text-anchor="end" style="font-family:'Liberation Sans',sans-serif;font-weight:bold;font-size:6.3px;stroke:#222;stroke-width:0.12px" fill="#222">2.5</text>
<line x1="25.4" y1="169.75" x2="27" y2="169.75" stroke="#555" stroke-width="0.9"/>
<line x1="51.26" y1="293.5" x2="51.26" y2="296.3" stroke="#555" stroke-width="0.9"/>
<text x="51.26" y="302.00" text-anchor="middle" style="font-family:'Liberation Sans',sans-serif;font-weight:bold;font-size:6.3px;stroke:#222;stroke-width:0.12px" fill="#222">500</text>
<line x1="75.51" y1="293.5" x2="75.51" y2="295.0" stroke="#555" stroke-width="0.9"/>
<line x1="99.77" y1="293.5" x2="99.77" y2="296.3" stroke="#555" stroke-width="0.9"/>
<text x="99.77" y="302.00" text-anchor="middle" style="font-family:'Liberation Sans',sans-serif;font-weight:bold;font-size:6.3px;stroke:#222;stroke-width:0.12px" fill="#222">600</text>
<line x1="124.03" y1="293.5" x2="124.03" y2="295.0" stroke="#555" stroke-width="0.9"/>
<line x1="148.29" y1="293.5" x2="148.29" y2="296.3" stroke="#555" stroke-width="0.9"/>
<text x="148.29" y="302.00" text-anchor="middle" style="font-family:'Liberation Sans',sans-serif;font-weight:bold;font-size:6.3px;stroke:#222;stroke-width:0.12px" fill="#222">700</text>
<line x1="172.54" y1="293.5" x2="172.54" y2="295.0" stroke="#555" stroke-width="0.9"/>
<line x1="196.80" y1="293.5" x2="196.80" y2="296.3" stroke="#555" stroke-width="0.9"/>
<text x="196.80" y="302.00" text-anchor="middle" style="font-family:'Liberation Sans',sans-serif;font-weight:bold;font-size:6.3px;stroke:#222;stroke-width:0.12px" fill="#222">800</text>
<text x="111.90" y="311.90" text-anchor="middle" style="font-family:'Liberation Sans',sans-serif;font-weight:bold;font-size:7.05px;stroke:#222;stroke-width:0.18px" fill="#222">Wavelength (nm)</text>
<text transform="translate(9.9,236.50) rotate(-90)" text-anchor="middle" style="font-family:'Liberation Sans',sans-serif;font-weight:bold;font-size:7px;stroke:#222;stroke-width:0.12px" fill="#222">Absorbance</text>
<text x="28.90" y="176.00" style="font-family:'Liberation Sans',sans-serif;font-weight:bold;font-size:9.8px;stroke:#111;stroke-width:0.3px" fill="#111">3</text>
<line x1="152" y1="199.50" x2="165.6" y2="199.50" stroke="#262626" stroke-width="1.1"/>
<text x="167.90" y="201.90" style="font-family:'Liberation Sans',sans-serif;font-weight:bold;font-size:6.25px;stroke:#222;stroke-width:0.2px" fill="#222">0</text>
<text x="178.90" y="201.90" style="font-family:'Liberation Sans',sans-serif;font-weight:bold;font-size:6.25px;stroke:#222;stroke-width:0.2px" fill="#222">min</text>
<line x1="152" y1="207.55" x2="165.6" y2="207.55" stroke="#ff3030" stroke-width="1.1"/>
<text x="167.90" y="209.95" style="font-family:'Liberation Sans',sans-serif;font-weight:bold;font-size:6.25px;stroke:#222;stroke-width:0.2px" fill="#222">30</text>
<text x="178.90" y="209.95" style="font-family:'Liberation Sans',sans-serif;font-weight:bold;font-size:6.25px;stroke:#222;stroke-width:0.2px" fill="#222">min</text>
<line x1="152" y1="215.60" x2="165.6" y2="215.60" stroke="#22ee22" stroke-width="1.1"/>
<text x="167.90" y="218.00" style="font-family:'Liberation Sans',sans-serif;font-weight:bold;font-size:6.25px;stroke:#222;stroke-width:0.2px" fill="#222">60</text>
<text x="178.90" y="218.00" style="font-family:'Liberation Sans',sans-serif;font-weight:bold;font-size:6.25px;stroke:#222;stroke-width:0.2px" fill="#222">min</text>
<line x1="152" y1="223.65" x2="165.6" y2="223.65" stroke="#3030ff" stroke-width="1.1"/>
<text x="167.90" y="226.05" style="font-family:'Liberation Sans',sans-serif;font-weight:bold;font-size:6.25px;stroke:#222;stroke-width:0.2px" fill="#222">90</text>
<text x="178.90" y="226.05" style="font-family:'Liberation Sans',sans-serif;font-weight:bold;font-size:6.25px;stroke:#222;stroke-width:0.2px" fill="#222">min</text>
<line x1="152" y1="231.70" x2="165.6" y2="231.70" stroke="#20f0f0" stroke-width="1.1"/>
<text x="167.90" y="234.10" style="font-family:'Liberation Sans',sans-serif;font-weight:bold;font-size:6.25px;stroke:#222;stroke-width:0.2px" fill="#222">100</text>
<text x="178.90" y="234.10" style="font-family:'Liberation Sans',sans-serif;font-weight:bold;font-size:6.25px;stroke:#222;stroke-width:0.2px" fill="#222">min</text>
<line x1="152" y1="239.75" x2="165.6" y2="239.75" stroke="#ff30ff" stroke-width="1.1"/>
<text x="167.90" y="242.15" style="font-family:'Liberation Sans',sans-serif;font-weight:bold;font-size:6.25px;stroke:#222;stroke-width:0.2px" fill="#222">120</text>
<text x="178.90" y="242.15" style="font-family:'Liberation Sans',sans-serif;font-weight:bold;font-size:6.25px;stroke:#222;stroke-width:0.2px" fill="#222">min</text>
<line x1="147.5" y1="195.3" x2="147.5" y2="245.5" stroke="#2a2a2a" stroke-width="1"/>
<path d="M146.0,244.3 L149.0,244.3 L147.5,248.1 Z" fill="#222"/>
<text x="103.30" y="327.40" text-anchor="middle" style="font-family:'Liberation Serif',serif;font-weight:bold;font-size:11.2px;stroke:#222;stroke-width:0.1px" fill="#222">(c)</text>
<clipPath id="cd"><rect x="251.3" y="167.0" width="169.2" height="126.5"/></clipPath>
<path d="M251.3,290.8 L252.0,290.8 L252.7,290.7 L253.4,290.7 L254.1,290.6 L254.8,290.6 L255.5,290.6 L256.2,290.5 L256.9,290.5 L257.6,290.4 L258.3,290.4 L259.0,290.3 L259.7,290.3 L260.4,290.2 L261.1,290.2 L261.8,290.1 L262.5,290.1 L263.2,290.0 L263.9,290.0 L264.6,289.9 L265.3,289.9 L266.0,289.8 L266.7,289.8 L267.4,289.7 L268.1,289.7 L268.8,289.6 L269.5,289.5 L270.2,289.5 L270.9,289.4 L271.6,289.4 L272.3,289.3 L273.0,289.3 L273.7,289.2 L274.4,289.2 L275.1,289.1 L275.8,289.1 L276.5,289.0 L277.2,289.0 L277.9,288.9 L278.6,288.9 L279.3,288.8 L280.0,288.7 L280.7,288.7 L281.4,288.6 L282.1,288.5 L282.8,288.5 L283.5,288.4 L284.2,288.3 L284.9,288.2 L285.6,288.2 L286.3,288.1 L287.0,288.0 L287.7,287.9 L288.4,287.8 L289.1,287.7 L289.8,287.5 L290.5,287.4 L291.2,287.2 L291.9,287.0 L292.6,286.8 L293.3,286.5 L294.0,286.2 L294.7,285.9 L295.4,285.5 L296.1,285.2 L296.8,284.8 L297.5,284.3 L298.2,283.9 L298.9,283.4 L299.6,283.0 L300.3,282.5 L301.0,282.0 L301.7,281.4 L302.4,280.9 L303.1,280.4 L303.8,279.8 L304.5,279.3 L305.2,278.6 L305.9,277.9 L306.6,277.2 L307.3,276.4 L308.0,275.5 L308.7,274.7 L309.4,273.8 L310.1,272.8 L310.8,271.9 L311.5,270.9 L312.2,269.9 L312.9,268.9 L313.6,267.9 L314.3,266.8 L315.0,265.6 L315.7,264.3 L316.4,262.9 L317.1,261.4 L317.8,259.5 L318.5,257.2 L319.2,254.4 L319.9,251.5 L320.6,248.4 L321.3,245.5 L322.0,242.8 L322.7,240.5 L323.4,238.5 L324.1,236.5 L324.8,234.6 L325.5,232.9 L326.2,231.6 L326.9,230.8 L327.6,230.2 L328.3,229.6 L329.0,229.2 L329.7,229.0 L330.4,228.9 L331.1,229.1 L331.8,229.5 L332.5,229.9 L333.2,230.3 L333.9,230.7 L334.6,231.2 L335.3,231.7 L336.0,232.2 L336.7,232.6 L337.4,232.8 L338.1,232.7 L338.8,232.3 L339.5,231.6 L340.2,230.7 L340.9,229.6 L341.6,228.5 L342.3,227.3 L343.0,225.8 L343.7,223.9 L344.4,221.7 L345.1,219.4 L345.8,217.0 L346.5,214.7 L347.2,212.4 L347.9,210.1 L348.6,207.8 L349.3,205.5 L350.0,203.3 L350.7,201.1 L351.4,199.0 L352.1,197.2 L352.8,195.6 L353.5,193.9 L354.2,192.7 L354.9,192.4 L355.6,192.8 L356.3,193.7 L357.0,194.9 L357.7,196.4 L358.4,199.6 L359.1,203.9 L359.8,209.5 L360.5,215.8 L361.2,221.6 L361.9,227.3 L362.6,233.4 L363.3,240.4 L364.0,247.0 L364.7,252.4 L365.4,257.3 L366.1,262.0 L366.8,266.1 L367.5,269.5 L368.2,272.7 L368.9,275.8 L369.6,278.6 L370.3,280.8 L371.0,282.7 L371.7,284.2 L372.4,285.5 L373.1,286.5 L373.8,287.3 L374.5,288.1 L375.2,288.7 L375.9,289.2 L376.6,289.6 L377.3,290.0 L378.0,290.4 L378.7,290.7 L379.4,290.9 L380.1,291.1 L380.8,291.3 L381.5,291.5 L382.2,291.6 L382.9,291.7 L383.6,291.8 L384.3,291.9 L385.0,291.9 L385.7,291.9 L386.4,291.9 L387.1,292.0 L387.8,292.0 L388.5,292.0 L389.2,292.0 L389.9,292.0 L390.6,292.0 L391.3,292.0 L392.0,292.0 L392.7,292.0 L393.4,292.1 L394.1,292.1 L394.8,292.1 L395.5,292.1 L396.2,292.1 L396.9,292.1 L397.6,292.1 L398.3,292.1 L399.0,292.1 L399.7,292.1 L400.4,292.1 L401.1,292.1 L401.8,292.1 L402.5,292.1 L403.2,292.1 L403.9,292.2 L404.6,292.2 L405.3,292.2 L406.0,292.2 L406.7,292.2 L407.4,292.2 L408.1,292.2 L408.8,292.2 L409.5,292.2 L410.2,292.2 L410.9,292.2 L411.6,292.2 L412.3,292.2 L413.0,292.2 L413.7,292.2 L414.4,292.2 L415.1,292.2 L415.8,292.2 L416.5,292.2 L417.2,292.2 L417.9,292.2 L418.6,292.2 L419.3,292.2 L420.0,292.2" fill="none" stroke="#262626" stroke-width="1" stroke-linejoin="round" clip-path="url(#cd)"/>
<path d="M251.3,291.2 L252.0,291.2 L252.7,291.2 L253.4,291.2 L254.1,291.1 L254.8,291.1 L255.5,291.1 L256.2,291.1 L256.9,291.1 L257.6,291.0 L258.3,291.0 L259.0,291.0 L259.7,291.0 L260.4,290.9 L261.1,290.9 L261.8,290.9 L262.5,290.9 L263.2,290.8 L263.9,290.8 L264.6,290.8 L265.3,290.7 L266.0,290.7 L266.7,290.7 L267.4,290.6 L268.1,290.6 L268.8,290.6 L269.5,290.5 L270.2,290.5 L270.9,290.5 L271.6,290.4 L272.3,290.4 L273.0,290.3 L273.7,290.3 L274.4,290.3 L275.1,290.2 L275.8,290.2 L276.5,290.1 L277.2,290.1 L277.9,290.1 L278.6,290.0 L279.3,290.0 L280.0,289.9 L280.7,289.9 L281.4,289.8 L282.1,289.7 L282.8,289.7 L283.5,289.6 L284.2,289.6 L284.9,289.5 L285.6,289.4 L286.3,289.3 L287.0,289.3 L287.7,289.2 L288.4,289.1 L289.1,289.0 L289.8,288.9 L290.5,288.8 L291.2,288.7 L291.9,288.6 L292.6,288.4 L293.3,288.2 L294.0,288.0 L294.7,287.8 L295.4,287.6 L296.1,287.4 L296.8,287.1 L297.5,286.9 L298.2,286.6 L298.9,286.3 L299.6,286.0 L300.3,285.7 L301.0,285.4 L301.7,285.0 L302.4,284.7 L303.1,284.4 L303.8,284.0 L304.5,283.6 L305.2,283.2 L305.9,282.8 L306.6,282.3 L307.3,281.8 L308.0,281.3 L308.7,280.8 L309.4,280.2 L310.1,279.6 L310.8,279.0 L311.5,278.3 L312.2,277.6 L312.9,276.9 L313.6,276.2 L314.3,275.4 L315.0,274.6 L315.7,273.8 L316.4,272.9 L317.1,272.1 L317.8,271.1 L318.5,269.9 L319.2,268.5 L319.9,267.0 L320.6,265.4 L321.3,263.8 L322.0,262.2 L322.7,260.7 L323.4,259.4 L324.1,258.2 L324.8,257.1 L325.5,256.0 L326.2,254.8 L326.9,253.8 L327.6,252.8 L328.3,252.0 L329.0,251.4 L329.7,251.1 L330.4,251.1 L331.1,251.2 L331.8,251.4 L332.5,251.5 L333.2,251.7 L333.9,251.9 L334.6,252.0 L335.3,252.1 L336.0,252.0 L336.7,251.7 L337.4,251.2 L338.1,250.5 L338.8,249.7 L339.5,248.8 L340.2,247.9 L340.9,247.0 L341.6,246.0 L342.3,244.9 L343.0,243.6 L343.7,242.3 L344.4,240.8 L345.1,239.4 L345.8,238.0 L346.5,236.6 L347.2,235.2 L347.9,233.7 L348.6,232.2 L349.3,230.8 L350.0,229.5 L350.7,228.3 L351.4,227.0 L352.1,225.8 L352.8,224.6 L353.5,223.7 L354.2,223.3 L354.9,223.3 L355.6,223.7 L356.3,224.4 L357.0,225.5 L357.7,226.7 L358.4,228.5 L359.1,231.9 L359.8,236.2 L360.5,242.0 L361.2,247.2 L361.9,252.1 L362.6,256.2 L363.3,259.5 L364.0,262.4 L364.7,265.5 L365.4,269.2 L366.1,272.7 L366.8,275.2 L367.5,277.4 L368.2,279.3 L368.9,281.2 L369.6,283.1 L370.3,284.6 L371.0,285.7 L371.7,286.6 L372.4,287.3 L373.1,287.9 L373.8,288.5 L374.5,288.9 L375.2,289.4 L375.9,289.8 L376.6,290.1 L377.3,290.4 L378.0,290.6 L378.7,290.8 L379.4,290.9 L380.1,291.1 L380.8,291.2 L381.5,291.3 L382.2,291.4 L382.9,291.5 L383.6,291.6 L384.3,291.7 L385.0,291.7 L385.7,291.7 L386.4,291.7 L387.1,291.8 L387.8,291.8 L388.5,291.8 L389.2,291.8 L389.9,291.8 L390.6,291.9 L391.3,291.9 L392.0,291.9 L392.7,291.9 L393.4,291.9 L394.1,291.9 L394.8,292.0 L395.5,292.0 L396.2,292.0 L396.9,292.0 L397.6,292.0 L398.3,292.0 L399.0,292.0 L399.7,292.0 L400.4,292.1 L401.1,292.1 L401.8,292.1 L402.5,292.1 L403.2,292.1 L403.9,292.1 L404.6,292.1 L405.3,292.1 L406.0,292.1 L406.7,292.1 L407.4,292.1 L408.1,292.1 L408.8,292.2 L409.5,292.2 L410.2,292.2 L410.9,292.2 L411.6,292.2 L412.3,292.2 L413.0,292.2 L413.7,292.2 L414.4,292.2 L415.1,292.2 L415.8,292.2 L416.5,292.2 L417.2,292.2 L417.9,292.2 L418.6,292.2 L419.3,292.2 L420.0,292.2" fill="none" stroke="#ff3030" stroke-width="1" stroke-linejoin="round" clip-path="url(#cd)"/>
<path d="M251.3,291.8 L252.0,291.8 L252.7,291.8 L253.4,291.8 L254.1,291.8 L254.8,291.8 L255.5,291.8 L256.2,291.8 L256.9,291.8 L257.6,291.8 L258.3,291.8 L259.0,291.8 L259.7,291.7 L260.4,291.7 L261.1,291.7 L261.8,291.7 L262.5,291.7 L263.2,291.7 L263.9,291.7 L264.6,291.7 L265.3,291.6 L266.0,291.6 L266.7,291.6 L267.4,291.6 L268.1,291.6 L268.8,291.6 L269.5,291.5 L270.2,291.5 L270.9,291.5 L271.6,291.5 L272.3,291.5 L273.0,291.4 L273.7,291.4 L274.4,291.4 L275.1,291.4 L275.8,291.3 L276.5,291.3 L277.2,291.3 L277.9,291.3 L278.6,291.3 L279.3,291.2 L280.0,291.2 L280.7,291.2 L281.4,291.1 L282.1,291.1 L282.8,291.1 L283.5,291.1 L284.2,291.0 L284.9,291.0 L285.6,291.0 L286.3,290.9 L287.0,290.9 L287.7,290.9 L288.4,290.8 L289.1,290.8 L289.8,290.7 L290.5,290.7 L291.2,290.6 L291.9,290.5 L292.6,290.5 L293.3,290.4 L294.0,290.3 L294.7,290.2 L295.4,290.2 L296.1,290.1 L296.8,290.0 L297.5,289.9 L298.2,289.8 L298.9,289.7 L299.6,289.6 L300.3,289.5 L301.0,289.4 L301.7,289.2 L302.4,289.1 L303.1,289.0 L303.8,288.9 L304.5,288.7 L305.2,288.5 L305.9,288.3 L306.6,288.1 L307.3,287.9 L308.0,287.6 L308.7,287.4 L309.4,287.1 L310.1,286.8 L310.8,286.4 L311.5,286.1 L312.2,285.7 L312.9,285.3 L313.6,285.0 L314.3,284.6 L315.0,284.1 L315.7,283.7 L316.4,283.3 L317.1,282.8 L317.8,282.3 L318.5,281.7 L319.2,281.1 L319.9,280.3 L320.6,279.5 L321.3,278.7 L322.0,277.9 L322.7,277.2 L323.4,276.5 L324.1,275.9 L324.8,275.4 L325.5,274.9 L326.2,274.3 L326.9,273.9 L327.6,273.4 L328.3,273.0 L329.0,272.7 L329.7,272.4 L330.4,272.2 L331.1,272.0 L331.8,271.9 L332.5,271.8 L333.2,271.7 L333.9,271.6 L334.6,271.4 L335.3,271.3 L336.0,271.1 L336.7,270.9 L337.4,270.6 L338.1,270.2 L338.8,269.6 L339.5,268.8 L340.2,268.1 L340.9,267.2 L341.6,266.4 L342.3,265.5 L343.0,264.7 L343.7,264.0 L344.4,263.3 L345.1,262.5 L345.8,261.7 L346.5,261.0 L347.2,260.2 L347.9,259.6 L348.6,259.0 L349.3,258.5 L350.0,258.0 L350.7,257.5 L351.4,257.1 L352.1,256.7 L352.8,256.4 L353.5,256.2 L354.2,256.2 L354.9,256.5 L355.6,257.0 L356.3,257.6 L357.0,258.3 L357.7,259.1 L358.4,260.1 L359.1,261.4 L359.8,262.9 L360.5,265.0 L361.2,267.6 L361.9,270.5 L362.6,273.1 L363.3,275.2 L364.0,277.2 L364.7,278.9 L365.4,280.4 L366.1,281.8 L366.8,283.0 L367.5,284.1 L368.2,285.2 L368.9,286.1 L369.6,287.1 L370.3,287.9 L371.0,288.6 L371.7,289.1 L372.4,289.6 L373.1,290.0 L373.8,290.4 L374.5,290.7 L375.2,290.9 L375.9,291.0 L376.6,291.2 L377.3,291.2 L378.0,291.3 L378.7,291.4 L379.4,291.5 L380.1,291.5 L380.8,291.6 L381.5,291.6 L382.2,291.7 L382.9,291.7 L383.6,291.8 L384.3,291.8 L385.0,291.8 L385.7,291.8 L386.4,291.8 L387.1,291.8 L387.8,291.9 L388.5,291.9 L389.2,291.9 L389.9,291.9 L390.6,291.9 L391.3,291.9 L392.0,291.9 L392.7,292.0 L393.4,292.0 L394.1,292.0 L394.8,292.0 L395.5,292.0 L396.2,292.0 L396.9,292.0 L397.6,292.0 L398.3,292.0 L399.0,292.1 L399.7,292.1 L400.4,292.1 L401.1,292.1 L401.8,292.1 L402.5,292.1 L403.2,292.1 L403.9,292.1 L404.6,292.1 L405.3,292.1 L406.0,292.1 L406.7,292.1 L407.4,292.1 L408.1,292.2 L408.8,292.2 L409.5,292.2 L410.2,292.2 L410.9,292.2 L411.6,292.2 L412.3,292.2 L413.0,292.2 L413.7,292.2 L414.4,292.2 L415.1,292.2 L415.8,292.2 L416.5,292.2 L417.2,292.2 L417.9,292.2 L418.6,292.2 L419.3,292.2 L420.0,292.2" fill="none" stroke="#22ee22" stroke-width="1" stroke-linejoin="round" clip-path="url(#cd)"/>
<path d="M251.3,291.5 L252.0,291.5 L252.7,291.5 L253.4,291.5 L254.1,291.5 L254.8,291.5 L255.5,291.5 L256.2,291.5 L256.9,291.5 L257.6,291.5 L258.3,291.5 L259.0,291.5 L259.7,291.5 L260.4,291.5 L261.1,291.5 L261.8,291.5 L262.5,291.5 L263.2,291.5 L263.9,291.5 L264.6,291.5 L265.3,291.5 L266.0,291.5 L266.7,291.5 L267.4,291.4 L268.1,291.4 L268.8,291.4 L269.5,291.4 L270.2,291.4 L270.9,291.4 L271.6,291.4 L272.3,291.4 L273.0,291.4 L273.7,291.4 L274.4,291.4 L275.1,291.4 L275.8,291.4 L276.5,291.4 L277.2,291.4 L277.9,291.4 L278.6,291.4 L279.3,291.3 L280.0,291.3 L280.7,291.3 L281.4,291.3 L282.1,291.3 L282.8,291.3 L283.5,291.3 L284.2,291.3 L284.9,291.3 L285.6,291.3 L286.3,291.3 L287.0,291.2 L287.7,291.2 L288.4,291.2 L289.1,291.2 L289.8,291.2 L290.5,291.2 L291.2,291.2 L291.9,291.2 L292.6,291.1 L293.3,291.1 L294.0,291.1 L294.7,291.0 L295.4,291.0 L296.1,291.0 L296.8,290.9 L297.5,290.9 L298.2,290.8 L298.9,290.8 L299.6,290.7 L300.3,290.7 L301.0,290.6 L301.7,290.5 L302.4,290.5 L303.1,290.4 L303.8,290.3 L304.5,290.3 L305.2,290.2 L305.9,290.1 L306.6,290.0 L307.3,289.9 L308.0,289.8 L308.7,289.7 L309.4,289.7 L310.1,289.6 L310.8,289.5 L311.5,289.3 L312.2,289.2 L312.9,289.0 L313.6,288.8 L314.3,288.6 L315.0,288.4 L315.7,288.1 L316.4,287.9 L317.1,287.6 L317.8,287.3 L318.5,287.1 L319.2,286.8 L319.9,286.5 L320.6,286.2 L321.3,285.9 L322.0,285.6 L322.7,285.3 L323.4,285.1 L324.1,284.8 L324.8,284.5 L325.5,284.2 L326.2,283.9 L326.9,283.6 L327.6,283.3 L328.3,283.1 L329.0,282.8 L329.7,282.6 L330.4,282.4 L331.1,282.2 L331.8,282.1 L332.5,282.0 L333.2,281.9 L333.9,281.7 L334.6,281.6 L335.3,281.5 L336.0,281.3 L336.7,281.1 L337.4,280.9 L338.1,280.6 L338.8,280.3 L339.5,279.9 L340.2,279.5 L340.9,279.1 L341.6,278.7 L342.3,278.3 L343.0,278.0 L343.7,277.7 L344.4,277.3 L345.1,277.0 L345.8,276.7 L346.5,276.3 L347.2,276.0 L347.9,275.7 L348.6,275.4 L349.3,275.1 L350.0,274.9 L350.7,274.8 L351.4,274.7 L352.1,274.7 L352.8,274.7 L353.5,274.8 L354.2,275.0 L354.9,275.1 L355.6,275.3 L356.3,275.7 L357.0,276.4 L357.7,277.1 L358.4,277.9 L359.1,278.7 L359.8,279.8 L360.5,280.9 L361.2,282.0 L361.9,283.0 L362.6,284.0 L363.3,285.0 L364.0,285.9 L364.7,286.7 L365.4,287.3 L366.1,287.9 L366.8,288.5 L367.5,289.0 L368.2,289.4 L368.9,289.8 L369.6,290.1 L370.3,290.3 L371.0,290.6 L371.7,290.8 L372.4,291.0 L373.1,291.1 L373.8,291.3 L374.5,291.4 L375.2,291.4 L375.9,291.5 L376.6,291.5 L377.3,291.6 L378.0,291.6 L378.7,291.7 L379.4,291.7 L380.1,291.8 L380.8,291.8 L381.5,291.8 L382.2,291.8 L382.9,291.9 L383.6,291.9 L384.3,291.9 L385.0,291.9 L385.7,291.9 L386.4,291.9 L387.1,291.9 L387.8,291.9 L388.5,292.0 L389.2,292.0 L389.9,292.0 L390.6,292.0 L391.3,292.0 L392.0,292.0 L392.7,292.0 L393.4,292.0 L394.1,292.0 L394.8,292.0 L395.5,292.0 L396.2,292.1 L396.9,292.1 L397.6,292.1 L398.3,292.1 L399.0,292.1 L399.7,292.1 L400.4,292.1 L401.1,292.1 L401.8,292.1 L402.5,292.1 L403.2,292.1 L403.9,292.1 L404.6,292.1 L405.3,292.1 L406.0,292.1 L406.7,292.2 L407.4,292.2 L408.1,292.2 L408.8,292.2 L409.5,292.2 L410.2,292.2 L410.9,292.2 L411.6,292.2 L412.3,292.2 L413.0,292.2 L413.7,292.2 L414.4,292.2 L415.1,292.2 L415.8,292.2 L416.5,292.2 L417.2,292.2 L417.9,292.2 L418.6,292.2 L419.3,292.2 L420.0,292.2" fill="none" stroke="#3030ff" stroke-width="1" stroke-linejoin="round" clip-path="url(#cd)"/>
<path d="M251.3,289.3 L252.0,289.3 L252.7,289.3 L253.4,289.3 L254.1,289.3 L254.8,289.3 L255.5,289.3 L256.2,289.3 L256.9,289.3 L257.6,289.3 L258.3,289.3 L259.0,289.3 L259.7,289.3 L260.4,289.3 L261.1,289.3 L261.8,289.3 L262.5,289.3 L263.2,289.3 L263.9,289.3 L264.6,289.3 L265.3,289.3 L266.0,289.3 L266.7,289.3 L267.4,289.3 L268.1,289.3 L268.8,289.3 L269.5,289.3 L270.2,289.3 L270.9,289.3 L271.6,289.3 L272.3,289.3 L273.0,289.3 L273.7,289.3 L274.4,289.3 L275.1,289.3 L275.8,289.3 L276.5,289.3 L277.2,289.3 L277.9,289.2 L278.6,289.2 L279.3,289.2 L280.0,289.2 L280.7,289.2 L281.4,289.2 L282.1,289.2 L282.8,289.2 L283.5,289.2 L284.2,289.2 L284.9,289.2 L285.6,289.2 L286.3,289.2 L287.0,289.2 L287.7,289.2 L288.4,289.2 L289.1,289.2 L289.8,289.2 L290.5,289.2 L291.2,289.2 L291.9,289.2 L292.6,289.2 L293.3,289.2 L294.0,289.2 L294.7,289.2 L295.4,289.2 L296.1,289.2 L296.8,289.2 L297.5,289.2 L298.2,289.1 L298.9,289.1 L299.6,289.1 L300.3,289.1 L301.0,289.1 L301.7,289.1 L302.4,289.1 L303.1,289.1 L303.8,289.1 L304.5,289.1 L305.2,289.1 L305.9,289.1 L306.6,289.1 L307.3,289.0 L308.0,289.0 L308.7,289.0 L309.4,289.0 L310.1,289.0 L310.8,289.0 L311.5,289.0 L312.2,288.9 L312.9,288.9 L313.6,288.9 L314.3,288.9 L315.0,288.8 L315.7,288.8 L316.4,288.8 L317.1,288.7 L317.8,288.7 L318.5,288.7 L319.2,288.6 L319.9,288.6 L320.6,288.5 L321.3,288.4 L322.0,288.4 L322.7,288.3 L323.4,288.3 L324.1,288.2 L324.8,288.1 L325.5,288.0 L326.2,287.8 L326.9,287.7 L327.6,287.5 L328.3,287.4 L329.0,287.2 L329.7,287.1 L330.4,286.9 L331.1,286.8 L331.8,286.7 L332.5,286.6 L333.2,286.5 L333.9,286.4 L334.6,286.3 L335.3,286.2 L336.0,286.1 L336.7,286.0 L337.4,285.9 L338.1,285.8 L338.8,285.8 L339.5,285.7 L340.2,285.6 L340.9,285.5 L341.6,285.4 L342.3,285.3 L343.0,285.3 L343.7,285.2 L344.4,285.1 L345.1,285.0 L345.8,284.9 L346.5,284.8 L347.2,284.8 L347.9,284.7 L348.6,284.6 L349.3,284.5 L350.0,284.5 L350.7,284.4 L351.4,284.4 L352.1,284.3 L352.8,284.3 L353.5,284.3 L354.2,284.4 L354.9,284.5 L355.6,284.7 L356.3,284.9 L357.0,285.2 L357.7,285.4 L358.4,285.7 L359.1,285.9 L359.8,286.1 L360.5,286.4 L361.2,286.7 L361.9,287.0 L362.6,287.3 L363.3,287.6 L364.0,287.8 L364.7,288.1 L365.4,288.3 L366.1,288.6 L366.8,288.8 L367.5,289.1 L368.2,289.3 L368.9,289.6 L369.6,289.8 L370.3,290.0 L371.0,290.1 L371.7,290.2 L372.4,290.3 L373.1,290.4 L373.8,290.6 L374.5,290.6 L375.2,290.7 L375.9,290.8 L376.6,290.8 L377.3,290.9 L378.0,290.9 L378.7,290.9 L379.4,290.9 L380.1,290.9 L380.8,290.9 L381.5,290.9 L382.2,290.9 L382.9,290.9 L383.6,290.9 L384.3,290.9 L385.0,290.9 L385.7,290.9 L386.4,290.9 L387.1,290.9 L387.8,290.9 L388.5,291.0 L389.2,291.0 L389.9,291.0 L390.6,291.0 L391.3,291.0 L392.0,291.0 L392.7,291.0 L393.4,291.0 L394.1,291.0 L394.8,291.0 L395.5,291.0 L396.2,291.0 L396.9,291.0 L397.6,291.0 L398.3,291.0 L399.0,291.0 L399.7,291.0 L400.4,291.0 L401.1,291.0 L401.8,291.0 L402.5,291.0 L403.2,291.0 L403.9,291.0 L404.6,291.0 L405.3,291.0 L406.0,291.0 L406.7,291.0 L407.4,291.0 L408.1,291.0 L408.8,291.0 L409.5,291.0 L410.2,291.0 L410.9,291.0 L411.6,291.0 L412.3,291.0 L413.0,291.0 L413.7,291.0 L414.4,291.0 L415.1,291.0 L415.8,291.0 L416.5,291.0 L417.2,291.0 L417.9,291.0 L418.6,291.0 L419.3,291.0 L420.0,291.0" fill="none" stroke="#20f0f0" stroke-width="1" stroke-linejoin="round" clip-path="url(#cd)"/>
<path d="M251.3,291.6 L252.0,291.6 L252.7,291.6 L253.4,291.6 L254.1,291.6 L254.8,291.6 L255.5,291.6 L256.2,291.6 L256.9,291.6 L257.6,291.6 L258.3,291.6 L259.0,291.6 L259.7,291.6 L260.4,291.6 L261.1,291.6 L261.8,291.6 L262.5,291.6 L263.2,291.6 L263.9,291.6 L264.6,291.6 L265.3,291.6 L266.0,291.6 L266.7,291.6 L267.4,291.6 L268.1,291.6 L268.8,291.6 L269.5,291.6 L270.2,291.6 L270.9,291.6 L271.6,291.6 L272.3,291.6 L273.0,291.6 L273.7,291.6 L274.4,291.6 L275.1,291.6 L275.8,291.6 L276.5,291.6 L277.2,291.6 L277.9,291.6 L278.6,291.5 L279.3,291.5 L280.0,291.5 L280.7,291.5 L281.4,291.5 L282.1,291.5 L282.8,291.5 L283.5,291.5 L284.2,291.5 L284.9,291.5 L285.6,291.5 L286.3,291.5 L287.0,291.5 L287.7,291.5 L288.4,291.5 L289.1,291.5 L289.8,291.5 L290.5,291.5 L291.2,291.5 L291.9,291.5 L292.6,291.5 L293.3,291.5 L294.0,291.5 L294.7,291.5 L295.4,291.5 L296.1,291.4 L296.8,291.4 L297.5,291.4 L298.2,291.4 L298.9,291.4 L299.6,291.4 L300.3,291.4 L301.0,291.4 L301.7,291.4 L302.4,291.3 L303.1,291.3 L303.8,291.3 L304.5,291.3 L305.2,291.3 L305.9,291.3 L306.6,291.2 L307.3,291.2 L308.0,291.2 L308.7,291.2 L309.4,291.2 L310.1,291.1 L310.8,291.1 L311.5,291.1 L312.2,291.1 L312.9,291.1 L313.6,291.0 L314.3,291.0 L315.0,291.0 L315.7,291.0 L316.4,290.9 L317.1,290.9 L317.8,290.9 L318.5,290.8 L319.2,290.8 L319.9,290.7 L320.6,290.7 L321.3,290.6 L322.0,290.5 L322.7,290.4 L323.4,290.4 L324.1,290.3 L324.8,290.2 L325.5,290.1 L326.2,290.0 L326.9,290.0 L327.6,289.9 L328.3,289.8 L329.0,289.8 L329.7,289.7 L330.4,289.7 L331.1,289.6 L331.8,289.6 L332.5,289.6 L333.2,289.6 L333.9,289.5 L334.6,289.5 L335.3,289.5 L336.0,289.5 L336.7,289.4 L337.4,289.4 L338.1,289.4 L338.8,289.4 L339.5,289.3 L340.2,289.3 L340.9,289.2 L341.6,289.2 L342.3,289.1 L343.0,289.1 L343.7,289.0 L344.4,289.0 L345.1,288.9 L345.8,288.8 L346.5,288.8 L347.2,288.7 L347.9,288.7 L348.6,288.6 L349.3,288.6 L350.0,288.6 L350.7,288.6 L351.4,288.6 L352.1,288.6 L352.8,288.6 L353.5,288.7 L354.2,288.8 L354.9,288.9 L355.6,289.0 L356.3,289.1 L357.0,289.2 L357.7,289.4 L358.4,289.5 L359.1,289.6 L359.8,289.8 L360.5,289.9 L361.2,290.0 L361.9,290.1 L362.6,290.2 L363.3,290.3 L364.0,290.4 L364.7,290.5 L365.4,290.6 L366.1,290.7 L366.8,290.8 L367.5,290.9 L368.2,291.0 L368.9,291.1 L369.6,291.2 L370.3,291.3 L371.0,291.4 L371.7,291.5 L372.4,291.6 L373.1,291.7 L373.8,291.7 L374.5,291.8 L375.2,291.9 L375.9,291.9 L376.6,291.9 L377.3,291.9 L378.0,291.9 L378.7,291.9 L379.4,291.9 L380.1,292.0 L380.8,292.0 L381.5,292.0 L382.2,292.0 L382.9,292.0 L383.6,292.0 L384.3,292.0 L385.0,292.0 L385.7,292.0 L386.4,292.0 L387.1,292.0 L387.8,292.1 L388.5,292.1 L389.2,292.1 L389.9,292.1 L390.6,292.1 L391.3,292.1 L392.0,292.1 L392.7,292.1 L393.4,292.1 L394.1,292.1 L394.8,292.1 L395.5,292.1 L396.2,292.1 L396.9,292.1 L397.6,292.1 L398.3,292.1 L399.0,292.1 L399.7,292.1 L400.4,292.2 L401.1,292.2 L401.8,292.2 L402.5,292.2 L403.2,292.2 L403.9,292.2 L404.6,292.2 L405.3,292.2 L406.0,292.2 L406.7,292.2 L407.4,292.2 L408.1,292.2 L408.8,292.2 L409.5,292.2 L410.2,292.2 L410.9,292.2 L411.6,292.2 L412.3,292.2 L413.0,292.2 L413.7,292.2 L414.4,292.2 L415.1,292.2 L415.8,292.2 L416.5,292.2 L417.2,292.2 L417.9,292.2 L418.6,292.2 L419.3,292.2 L420.0,292.2" fill="none" stroke="#ff30ff" stroke-width="1" stroke-linejoin="round" clip-path="url(#cd)"/>
<rect x="251.3" y="167.5" width="169.2" height="126.0" fill="none" stroke="#7e7e7e" stroke-width="1.5"/>
<line x1="248.3" y1="293.50" x2="251.3" y2="293.50" stroke="#555" stroke-width="0.9"/>
<text x="247.40" y="295.20" text-anchor="end" style="font-family:'Liberation Sans',sans-serif;font-weight:bold;font-size:6.3px;stroke:#222;stroke-width:0.12px" fill="#222">0.0</text>
<line x1="249.70000000000002" y1="282.25" x2="251.3" y2="282.25" stroke="#555" stroke-width="0.9"/>
<line x1="248.3" y1="271.00" x2="251.3" y2="271.00" stroke="#555" stroke-width="0.9"/>
<text x="247.40" y="272.70" text-anchor="end" style="font-family:'Liberation Sans',sans-serif;font-weight:bold;font-size:6.3px;stroke:#222;stroke-width:0.12px" fill="#222">0.5</text>
<line x1="249.70000000000002" y1="259.75" x2="251.3" y2="259.75" stroke="#555" stroke-width="0.9"/>
<line x1="248.3" y1="248.50" x2="251.3" y2="248.50" stroke="#555" stroke-width="0.9"/>
<text x="247.40" y="250.20" text-anchor="end" style="font-family:'Liberation Sans',sans-serif;font-weight:bold;font-size:6.3px;stroke:#222;stroke-width:0.12px" fill="#222">1.0</text>
<line x1="249.70000000000002" y1="237.25" x2="251.3" y2="237.25" stroke="#555" stroke-width="0.9"/>
<line x1="248.3" y1="226.00" x2="251.3" y2="226.00" stroke="#555" stroke-width="0.9"/>
<text x="247.40" y="227.70" text-anchor="end" style="font-family:'Liberation Sans',sans-serif;font-weight:bold;font-size:6.3px;stroke:#222;stroke-width:0.12px" fill="#222">1.5</text>
<line x1="249.70000000000002" y1="214.75" x2="251.3" y2="214.75" stroke="#555" stroke-width="0.9"/>
<line x1="248.3" y1="203.50" x2="251.3" y2="203.50" stroke="#555" stroke-width="0.9"/>
<text x="247.40" y="205.20" text-anchor="end" style="font-family:'Liberation Sans',sans-serif;font-weight:bold;font-size:6.3px;stroke:#222;stroke-width:0.12px" fill="#222">2.0</text>
<line x1="249.70000000000002" y1="192.25" x2="251.3" y2="192.25" stroke="#555" stroke-width="0.9"/>
<line x1="248.3" y1="181.00" x2="251.3" y2="181.00" stroke="#555" stroke-width="0.9"/>
<text x="247.40" y="182.70" text-anchor="end" style="font-family:'Liberation Sans',sans-serif;font-weight:bold;font-size:6.3px;stroke:#222;stroke-width:0.12px" fill="#222">2.5</text>
<line x1="249.70000000000002" y1="169.75" x2="251.3" y2="169.75" stroke="#555" stroke-width="0.9"/>
<line x1="275.47" y1="293.5" x2="275.47" y2="296.3" stroke="#555" stroke-width="0.9"/>
<text x="275.47" y="302.00" text-anchor="middle" style="font-family:'Liberation Sans',sans-serif;font-weight:bold;font-size:6.3px;stroke:#222;stroke-width:0.12px" fill="#222">500</text>
<line x1="299.64" y1="293.5" x2="299.64" y2="295.0" stroke="#555" stroke-width="0.9"/>
<line x1="323.81" y1="293.5" x2="323.81" y2="296.3" stroke="#555" stroke-width="0.9"/>
<text x="323.81" y="302.00" text-anchor="middle" style="font-family:'Liberation Sans',sans-serif;font-weight:bold;font-size:6.3px;stroke:#222;stroke-width:0.12px" fill="#222">600</text>
<line x1="347.99" y1="293.5" x2="347.99" y2="295.0" stroke="#555" stroke-width="0.9"/>
<line x1="372.16" y1="293.5" x2="372.16" y2="296.3" stroke="#555" stroke-width="0.9"/>
<text x="372.16" y="302.00" text-anchor="middle" style="font-family:'Liberation Sans',sans-serif;font-weight:bold;font-size:6.3px;stroke:#222;stroke-width:0.12px" fill="#222">700</text>
<line x1="396.33" y1="293.5" x2="396.33" y2="295.0" stroke="#555" stroke-width="0.9"/>
<line x1="420.50" y1="293.5" x2="420.50" y2="296.3" stroke="#555" stroke-width="0.9"/>
<text x="420.50" y="302.00" text-anchor="middle" style="font-family:'Liberation Sans',sans-serif;font-weight:bold;font-size:6.3px;stroke:#222;stroke-width:0.12px" fill="#222">800</text>
<text x="335.90" y="311.90" text-anchor="middle" style="font-family:'Liberation Sans',sans-serif;font-weight:bold;font-size:7.05px;stroke:#222;stroke-width:0.18px" fill="#222">Wavelength (nm)</text>
<text transform="translate(231.3,233.80) rotate(-90)" text-anchor="middle" style="font-family:'Liberation Sans',sans-serif;font-weight:bold;font-size:7px;stroke:#222;stroke-width:0.12px" fill="#222">Absorbance</text>
<text x="253.20" y="176.00" style="font-family:'Liberation Sans',sans-serif;font-weight:bold;font-size:9.8px;stroke:#111;stroke-width:0.3px" fill="#111">4</text>
<line x1="374.6" y1="198.70" x2="388.1" y2="198.70" stroke="#262626" stroke-width="1.1"/>
<text x="390.20" y="201.10" style="font-family:'Liberation Sans',sans-serif;font-weight:bold;font-size:6.25px;stroke:#222;stroke-width:0.2px" fill="#222">0</text>
<text x="401.10" y="201.10" style="font-family:'Liberation Sans',sans-serif;font-weight:bold;font-size:6.25px;stroke:#222;stroke-width:0.2px" fill="#222">min</text>
<line x1="374.6" y1="206.75" x2="388.1" y2="206.75" stroke="#ff3030" stroke-width="1.1"/>
<text x="390.20" y="209.15" style="font-family:'Liberation Sans',sans-serif;font-weight:bold;font-size:6.25px;stroke:#222;stroke-width:0.2px" fill="#222">30</text>
<text x="401.10" y="209.15" style="font-family:'Liberation Sans',sans-serif;font-weight:bold;font-size:6.25px;stroke:#222;stroke-width:0.2px" fill="#222">min</text>
<line x1="374.6" y1="214.80" x2="388.1" y2="214.80" stroke="#22ee22" stroke-width="1.1"/>
<text x="390.20" y="217.20" style="font-family:'Liberation Sans',sans-serif;font-weight:bold;font-size:6.25px;stroke:#222;stroke-width:0.2px" fill="#222">60</text>
<text x="401.10" y="217.20" style="font-family:'Liberation Sans',sans-serif;font-weight:bold;font-size:6.25px;stroke:#222;stroke-width:0.2px" fill="#222">min</text>
<line x1="374.6" y1="222.85" x2="388.1" y2="222.85" stroke="#3030ff" stroke-width="1.1"/>
<text x="390.20" y="225.25" style="font-family:'Liberation Sans',sans-serif;font-weight:bold;font-size:6.25px;stroke:#222;stroke-width:0.2px" fill="#222">90</text>
<text x="401.10" y="225.25" style="font-family:'Liberation Sans',sans-serif;font-weight:bold;font-size:6.25px;stroke:#222;stroke-width:0.2px" fill="#222">min</text>
<line x1="374.6" y1="230.90" x2="388.1" y2="230.90" stroke="#20f0f0" stroke-width="1.1"/>
<text x="390.20" y="233.30" style="font-family:'Liberation Sans',sans-serif;font-weight:bold;font-size:6.25px;stroke:#222;stroke-width:0.2px" fill="#222">100</text>
<text x="401.10" y="233.30" style="font-family:'Liberation Sans',sans-serif;font-weight:bold;font-size:6.25px;stroke:#222;stroke-width:0.2px" fill="#222">min</text>
<line x1="374.6" y1="238.95" x2="388.1" y2="238.95" stroke="#ff30ff" stroke-width="1.1"/>
<text x="390.20" y="241.35" style="font-family:'Liberation Sans',sans-serif;font-weight:bold;font-size:6.25px;stroke:#222;stroke-width:0.2px" fill="#222">120</text>
<text x="401.10" y="241.35" style="font-family:'Liberation Sans',sans-serif;font-weight:bold;font-size:6.25px;stroke:#222;stroke-width:0.2px" fill="#222">min</text>
<line x1="370.1" y1="194.2" x2="370.1" y2="244.9" stroke="#2a2a2a" stroke-width="1"/>
<path d="M368.6,243.70000000000002 L371.6,243.70000000000002 L370.1,247.5 Z" fill="#222"/>
<text x="325.70" y="327.40" text-anchor="middle" style="font-family:'Liberation Serif',serif;font-weight:bold;font-size:11.2px;stroke:#222;stroke-width:0.1px" fill="#222">(d)</text>
<rect x="114.2" y="333.5" width="232.8" height="171.8" fill="none" stroke="#3a3a3a" stroke-width="1.15"/>
<line x1="111.0" y1="505.30" x2="114.2" y2="505.30" stroke="#333" stroke-width="1"/>
<text x="108.50" y="506.90" text-anchor="end" style="font-family:'Liberation Sans',sans-serif;font-weight:bold;font-size:7.9px;stroke:#222;stroke-width:0.15px" fill="#222">0.0</text>
<line x1="112.60000000000001" y1="488.62" x2="114.2" y2="488.62" stroke="#333" stroke-width="1"/>
<line x1="111.0" y1="471.94" x2="114.2" y2="471.94" stroke="#333" stroke-width="1"/>
<text x="108.50" y="473.54" text-anchor="end" style="font-family:'Liberation Sans',sans-serif;font-weight:bold;font-size:7.9px;stroke:#222;stroke-width:0.15px" fill="#222">0.2</text>
<line x1="112.60000000000001" y1="455.26" x2="114.2" y2="455.26" stroke="#333" stroke-width="1"/>
<line x1="111.0" y1="438.58" x2="114.2" y2="438.58" stroke="#333" stroke-width="1"/>
<text x="108.50" y="440.18" text-anchor="end" style="font-family:'Liberation Sans',sans-serif;font-weight:bold;font-size:7.9px;stroke:#222;stroke-width:0.15px" fill="#222">0.4</text>
<line x1="112.60000000000001" y1="421.90" x2="114.2" y2="421.90" stroke="#333" stroke-width="1"/>
<line x1="111.0" y1="405.22" x2="114.2" y2="405.22" stroke="#333" stroke-width="1"/>
<text x="108.50" y="406.82" text-anchor="end" style="font-family:'Liberation Sans',sans-serif;font-weight:bold;font-size:7.9px;stroke:#222;stroke-width:0.15px" fill="#222">0.6</text>
<line x1="112.60000000000001" y1="388.54" x2="114.2" y2="388.54" stroke="#333" stroke-width="1"/>
<line x1="111.0" y1="371.86" x2="114.2" y2="371.86" stroke="#333" stroke-width="1"/>
<text x="108.50" y="373.46" text-anchor="end" style="font-family:'Liberation Sans',sans-serif;font-weight:bold;font-size:7.9px;stroke:#222;stroke-width:0.15px" fill="#222">0.8</text>
<line x1="112.60000000000001" y1="355.18" x2="114.2" y2="355.18" stroke="#333" stroke-width="1"/>
<line x1="111.0" y1="338.50" x2="114.2" y2="338.50" stroke="#333" stroke-width="1"/>
<text x="108.50" y="340.10" text-anchor="end" style="font-family:'Liberation Sans',sans-serif;font-weight:bold;font-size:7.9px;stroke:#222;stroke-width:0.15px" fill="#222">1.0</text>
<line x1="119.50" y1="505.3" x2="119.50" y2="508.5" stroke="#333" stroke-width="1"/>
<text x="119.50" y="517.20" text-anchor="middle" style="font-family:'Liberation Sans',sans-serif;font-weight:bold;font-size:8.0px;stroke:#222;stroke-width:0.15px" fill="#222">0</text>
<line x1="155.30" y1="505.3" x2="155.30" y2="508.5" stroke="#333" stroke-width="1"/>
<text x="155.30" y="517.20" text-anchor="middle" style="font-family:'Liberation Sans',sans-serif;font-weight:bold;font-size:8.0px;stroke:#222;stroke-width:0.15px" fill="#222">20</text>
<line x1="191.10" y1="505.3" x2="191.10" y2="508.5" stroke="#333" stroke-width="1"/>
<text x="191.10" y="517.20" text-anchor="middle" style="font-family:'Liberation Sans',sans-serif;font-weight:bold;font-size:8.0px;stroke:#222;stroke-width:0.15px" fill="#222">40</text>
<line x1="226.90" y1="505.3" x2="226.90" y2="508.5" stroke="#333" stroke-width="1"/>
<text x="226.90" y="517.20" text-anchor="middle" style="font-family:'Liberation Sans',sans-serif;font-weight:bold;font-size:8.0px;stroke:#222;stroke-width:0.15px" fill="#222">60</text>
<line x1="262.70" y1="505.3" x2="262.70" y2="508.5" stroke="#333" stroke-width="1"/>
<text x="262.70" y="517.20" text-anchor="middle" style="font-family:'Liberation Sans',sans-serif;font-weight:bold;font-size:8.0px;stroke:#222;stroke-width:0.15px" fill="#222">80</text>
<line x1="298.50" y1="505.3" x2="298.50" y2="508.5" stroke="#333" stroke-width="1"/>
<text x="298.50" y="517.20" text-anchor="middle" style="font-family:'Liberation Sans',sans-serif;font-weight:bold;font-size:8.0px;stroke:#222;stroke-width:0.15px" fill="#222">100</text>
<line x1="334.30" y1="505.3" x2="334.30" y2="508.5" stroke="#333" stroke-width="1"/>
<text x="334.30" y="517.20" text-anchor="middle" style="font-family:'Liberation Sans',sans-serif;font-weight:bold;font-size:8.0px;stroke:#222;stroke-width:0.15px" fill="#222">120</text>
<path d="M119.50,338.50 L173.20,351.68 L226.90,358.52 L280.60,368.02 L298.50,371.36 L334.30,376.53" fill="none" stroke="#222" stroke-width="1.1"/>
<rect x="117.60" y="336.60" width="3.81" height="3.81" fill="#222"/>
<rect x="171.30" y="349.77" width="3.81" height="3.81" fill="#222"/>
<rect x="225.00" y="356.61" width="3.81" height="3.81" fill="#222"/>
<rect x="278.70" y="366.12" width="3.81" height="3.81" fill="#222"/>
<rect x="296.60" y="369.46" width="3.81" height="3.81" fill="#222"/>
<rect x="332.40" y="374.63" width="3.81" height="3.81" fill="#222"/>
<path d="M119.50,338.50 L173.20,402.72 L226.90,439.25 L280.60,477.61 L298.50,487.45 L334.30,496.96" fill="none" stroke="#ff2020" stroke-width="1.1"/>
<circle cx="119.50" cy="338.50" r="2.24" fill="#ff2020"/>
<circle cx="173.20" cy="402.72" r="2.24" fill="#ff2020"/>
<circle cx="226.90" cy="439.25" r="2.24" fill="#ff2020"/>
<circle cx="280.60" cy="477.61" r="2.24" fill="#ff2020"/>
<circle cx="298.50" cy="487.45" r="2.24" fill="#ff2020"/>
<circle cx="334.30" cy="496.96" r="2.24" fill="#ff2020"/>
<path d="M119.50,338.50 L173.20,415.06 L226.90,459.10 L280.60,480.11 L298.50,485.95 L334.30,492.96" fill="none" stroke="#10e010" stroke-width="1.1"/>
<path d="M119.50,335.92 L122.08,340.40 L116.92,340.40 Z" fill="#10e010"/>
<path d="M173.20,412.49 L175.78,416.97 L170.62,416.97 Z" fill="#10e010"/>
<path d="M226.90,456.52 L229.48,461.00 L224.32,461.00 Z" fill="#10e010"/>
<path d="M280.60,477.54 L283.18,482.02 L278.02,482.02 Z" fill="#10e010"/>
<path d="M298.50,483.38 L301.08,487.86 L295.92,487.86 Z" fill="#10e010"/>
<path d="M334.30,490.38 L336.88,494.86 L331.72,494.86 Z" fill="#10e010"/>
<path d="M119.50,338.50 L173.20,418.06 L226.90,461.93 L280.60,486.62 L298.50,489.79 L334.30,497.29" fill="none" stroke="#2020ff" stroke-width="1.1"/>
<path d="M119.50,341.08 L122.08,336.60 L116.92,336.60 Z" fill="#2020ff"/>
<path d="M173.20,420.64 L175.78,416.16 L170.62,416.16 Z" fill="#2020ff"/>
<path d="M226.90,464.51 L229.48,460.03 L224.32,460.03 Z" fill="#2020ff"/>
<path d="M280.60,489.19 L283.18,484.71 L278.02,484.71 Z" fill="#2020ff"/>
<path d="M298.50,492.36 L301.08,487.88 L295.92,487.88 Z" fill="#2020ff"/>
<path d="M334.30,499.87 L336.88,495.39 L331.72,495.39 Z" fill="#2020ff"/>
<path d="M119.50,338.50 L173.20,389.37 L226.90,443.58 L280.60,474.44 L298.50,489.79 L334.30,497.29" fill="none" stroke="#10f0f0" stroke-width="1.1"/>
<path d="M119.50,335.59 L122.08,338.50 L119.50,341.41 L116.92,338.50 Z" fill="#10f0f0"/>
<path d="M173.20,386.46 L175.78,389.37 L173.20,392.29 L170.62,389.37 Z" fill="#10f0f0"/>
<path d="M226.90,440.67 L229.48,443.58 L226.90,446.50 L224.32,443.58 Z" fill="#10f0f0"/>
<path d="M280.60,471.53 L283.18,474.44 L280.60,477.35 L278.02,474.44 Z" fill="#10f0f0"/>
<path d="M298.50,486.88 L301.08,489.79 L298.50,492.70 L295.92,489.79 Z" fill="#10f0f0"/>
<path d="M334.30,494.38 L336.88,497.29 L334.30,500.21 L331.72,497.29 Z" fill="#10f0f0"/>
<rect x="247.5" y="384.7" width="95.3" height="60.7" fill="#fff" stroke="#777" stroke-width="1"/>
<line x1="254" y1="394.60" x2="260.9" y2="394.60" stroke="#222" stroke-width="1.1"/>
<line x1="266.6" y1="394.60" x2="273" y2="394.60" stroke="#222" stroke-width="1.1"/>
<rect x="262.00" y="392.90" width="3.40" height="3.40" fill="#222"/>
<text x="275.30" y="397.10" style="font-family:'Liberation Sans',sans-serif;font-weight:bold;font-size:8.1px;stroke:#111;stroke-width:0.3px" fill="#111">Without catalyst</text>
<line x1="254" y1="405.45" x2="260.9" y2="405.45" stroke="#ff2020" stroke-width="1.1"/>
<line x1="266.6" y1="405.45" x2="273" y2="405.45" stroke="#ff2020" stroke-width="1.1"/>
<circle cx="263.70" cy="405.45" r="2.00" fill="#ff2020"/>
<text x="275.30" y="407.95" style="font-family:'Liberation Sans',sans-serif;font-weight:bold;font-size:8.1px;stroke:#111;stroke-width:0.3px" fill="#111">Compound 1</text>
<line x1="254" y1="416.30" x2="260.9" y2="416.30" stroke="#10e010" stroke-width="1.1"/>
<line x1="266.6" y1="416.30" x2="273" y2="416.30" stroke="#10e010" stroke-width="1.1"/>
<path d="M263.70,414.00 L266.00,418.00 L261.40,418.00 Z" fill="#10e010"/>
<text x="275.30" y="418.80" style="font-family:'Liberation Sans',sans-serif;font-weight:bold;font-size:8.1px;stroke:#111;stroke-width:0.3px" fill="#111">Compound 2</text>
<line x1="254" y1="427.15" x2="260.9" y2="427.15" stroke="#2020ff" stroke-width="1.1"/>
<line x1="266.6" y1="427.15" x2="273" y2="427.15" stroke="#2020ff" stroke-width="1.1"/>
<path d="M263.70,429.45 L266.00,425.45 L261.40,425.45 Z" fill="#2020ff"/>
<text x="275.30" y="429.65" style="font-family:'Liberation Sans',sans-serif;font-weight:bold;font-size:8.1px;stroke:#111;stroke-width:0.3px" fill="#111">Compound 3</text>
<line x1="254" y1="438.00" x2="260.9" y2="438.00" stroke="#10f0f0" stroke-width="1.1"/>
<line x1="266.6" y1="438.00" x2="273" y2="438.00" stroke="#10f0f0" stroke-width="1.1"/>
<path d="M263.70,435.40 L266.00,438.00 L263.70,440.60 L261.40,438.00 Z" fill="#10f0f0"/>
<text x="275.30" y="440.50" style="font-family:'Liberation Sans',sans-serif;font-weight:bold;font-size:8.1px;stroke:#111;stroke-width:0.3px" fill="#111">Compound 4</text>
<text x="226.80" y="529.20" text-anchor="middle" style="font-family:'Liberation Sans',sans-serif;font-weight:bold;font-size:9.55px;stroke:#222;stroke-width:0.12px" fill="#222">Irradiation time (min)</text>
<text transform="translate(89.0,421.2) rotate(-90)" text-anchor="middle" style="font-family:'Liberation Sans',sans-serif;font-weight:bold;font-size:9.8px;stroke:#222;stroke-width:0.3px" fill="#222">C/C<tspan style="font-size:6px;stroke-width:0.15px" dy="3.3">0</tspan></text>
<text x="215.00" y="545.90" text-anchor="middle" style="font-family:'Liberation Serif',serif;font-weight:bold;font-size:11.2px;stroke:#222;stroke-width:0.1px" fill="#222">(e)</text>
</svg>
</body></html>
